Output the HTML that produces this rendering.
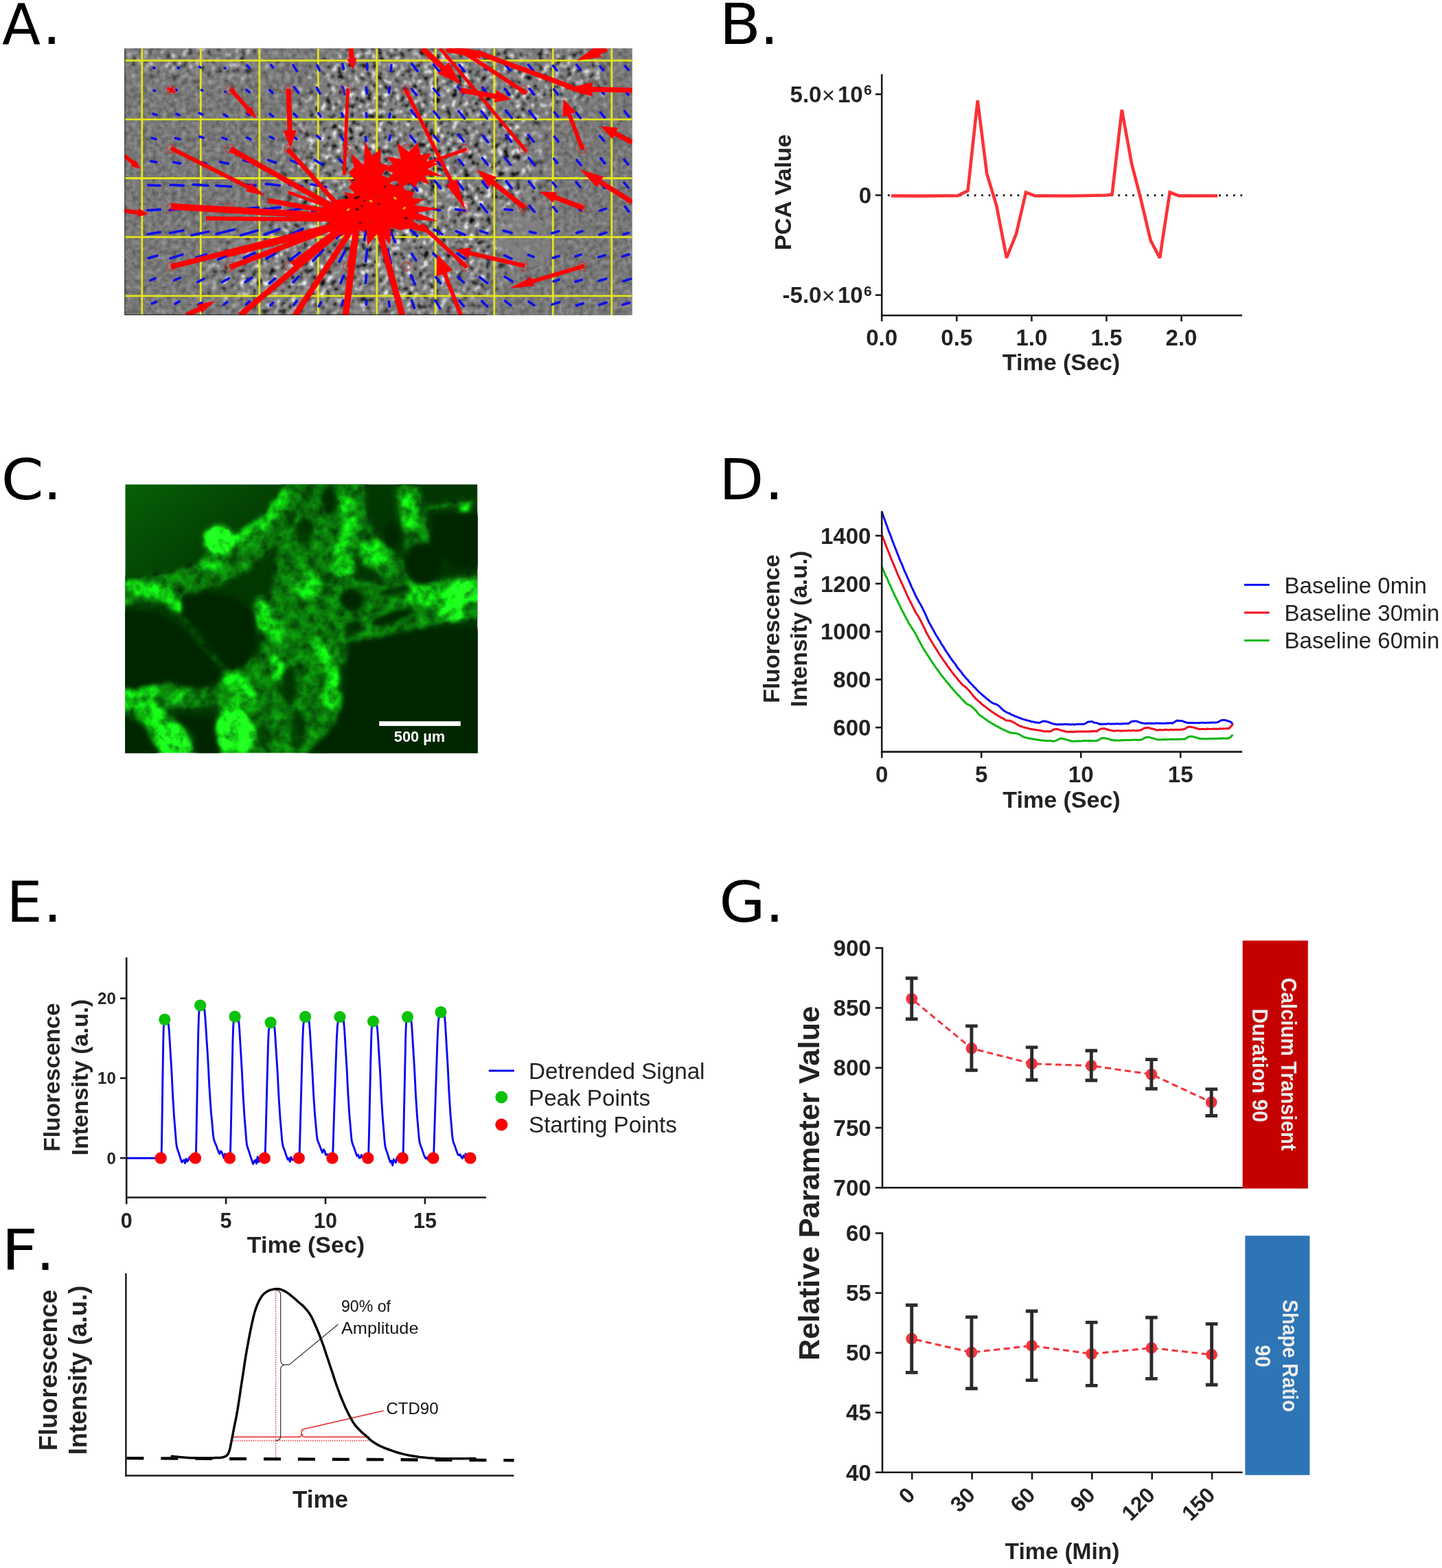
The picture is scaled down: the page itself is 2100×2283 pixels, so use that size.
<!DOCTYPE html>
<html lang="en"><head><meta charset="utf-8"><title>Figure</title>
<style>
html,body{margin:0;padding:0;background:#fff;}
body{width:2100px;height:2283px;font-family:'Liberation Sans',sans-serif;}
svg{display:block;}
text{white-space:pre;}
</style></head><body>
<svg width="2100" height="2283" viewBox="0 0 2100 2283" role="img" aria-label="Multi-panel scientific figure, panels A to G">
<defs>
<clipPath id="clipA"><rect x="181.3" y="70.4" width="739.3" height="388.6"/></clipPath>
<filter id="nzA1" x="0" y="0" width="100%" height="100%" color-interpolation-filters="sRGB">
<feTurbulence type="fractalNoise" baseFrequency="0.14" numOctaves="2" seed="4"/>
<feColorMatrix type="matrix" values="0.32 0 0 0 0.30999999999999994 0.32 0 0 0 0.30999999999999994 0.32 0 0 0 0.30999999999999994 0 0 0 0 1"/>
</filter>
<filter id="nzA2" x="0" y="0" width="100%" height="100%" color-interpolation-filters="sRGB">
<feTurbulence type="fractalNoise" baseFrequency="0.12" numOctaves="2" seed="9"/>
<feColorMatrix type="matrix" values="1.0 0 0 0 0.0 1.0 0 0 0 0.0 1.0 0 0 0 0.0 0 0 0 0 1"/>
<feComponentTransfer><feFuncR type="table" tableValues="0.020 0.020 0.020 0.020 0.020 0.050 0.212 0.338 0.428 0.482 0.500 0.518 0.572 0.662 0.788 0.950 0.980 0.980 0.980 0.980 0.980"/><feFuncG type="table" tableValues="0.020 0.020 0.020 0.020 0.020 0.050 0.212 0.338 0.428 0.482 0.500 0.518 0.572 0.662 0.788 0.950 0.980 0.980 0.980 0.980 0.980"/><feFuncB type="table" tableValues="0.020 0.020 0.020 0.020 0.020 0.050 0.212 0.338 0.428 0.482 0.500 0.518 0.572 0.662 0.788 0.950 0.980 0.980 0.980 0.980 0.980"/></feComponentTransfer>
<feGaussianBlur stdDeviation="0.8"/>
</filter>
<filter id="blA" x="-5%" y="-5%" width="110%" height="110%"><feGaussianBlur stdDeviation="22"/></filter>
<filter id="softA" x="0" y="0" width="100%" height="100%"><feGaussianBlur stdDeviation="0.6"/></filter>
<mask id="mA" maskUnits="userSpaceOnUse" x="181.3" y="70.4" width="739.3" height="388.6">
<rect x="181.3" y="70.4" width="739.3" height="388.6" fill="#000"/>
<g filter="url(#blA)" fill="#fff">
<ellipse cx="600" cy="250" rx="190" ry="220"/>
<ellipse cx="760" cy="110" rx="130" ry="55"/>
<ellipse cx="430" cy="400" rx="130" ry="70"/>
<ellipse cx="290" cy="88" rx="125" ry="30" opacity="0.9"/>
<ellipse cx="760" cy="345" rx="42" ry="36" fill="#000"/>
</g>
</mask>
<clipPath id="clipC"><rect x="182.3" y="705.2" width="513.1" height="391"/></clipPath>
<linearGradient id="bgC" x1="0" y1="0" x2="1" y2="1"><stop offset="0" stop-color="#076007"/><stop offset="0.3" stop-color="#023802"/><stop offset="1" stop-color="#013001"/></linearGradient>
<filter id="netC" filterUnits="userSpaceOnUse" x="0" y="0" width="1848" height="1437" color-interpolation-filters="sRGB">
<feGaussianBlur in="SourceGraphic" stdDeviation="13" result="b"/>
<feTurbulence type="fractalNoise" baseFrequency="0.018" numOctaves="3" seed="12" result="t"/>
<feColorMatrix in="t" type="matrix" values="0 0.9 0 0 0.2  0 0.9 0 0 0.2  0 0.9 0 0 0.2  0 0 0 0 1" result="t2"/>
<feComposite in="b" in2="t2" operator="arithmetic" k1="1.6" k2="0.0" k3="0" k4="0"/>
</filter>
<filter id="holeC" filterUnits="userSpaceOnUse" x="0" y="0" width="1848" height="1437"><feGaussianBlur stdDeviation="11"/></filter>
</defs>
<rect width="2100" height="2283" fill="#ffffff"/>
<g id="panelA" clip-path="url(#clipA)">
<rect x="181.3" y="70.4" width="739.3" height="388.6" fill="#7f7f7f"/>
<rect x="181.3" y="70.4" width="739.3" height="388.6" filter="url(#nzA1)"/>
<g mask="url(#mA)"><rect x="181.3" y="70.4" width="739.3" height="388.6" filter="url(#nzA2)"/></g>
<ellipse cx="761" cy="350" rx="36" ry="46" transform="rotate(-52 761 350)" fill="#848484" fill-opacity="0.5" stroke="#5c5c5c" stroke-width="1.5" stroke-opacity="0.4"/>
<g filter="url(#softA)">
<path d="M206.8 70.4V459 M292.3 70.4V459 M377.8 70.4V459 M463.3 70.4V459 M548.8 70.4V459 M634.3 70.4V459 M719.8 70.4V459 M805.3 70.4V459 M890.8 70.4V459 M181.3 88.1H920.6 M181.3 173.8H920.6 M181.3 259.5H920.6 M181.3 345.2H920.6 M181.3 430.9H920.6" stroke="#e4e41c" stroke-width="2.8" fill="none"/>
<path d="M223.7 98.3L225.1 99.1 M259 98.3L260.4 99.2 M290.7 97.4L292.1 98.4 M327.2 98.8L328.1 99.6 M359.6 95.3L363.4 99.2 M394.7 94.6L397.7 98.4 M427.1 94.9L432.4 103.6 M462.2 95.2L465.4 102.6 M498.7 93.2L500.4 100.6 M534.5 93L534.9 101.3 M570 94.9L568.9 103.4 M599.6 92.9L608 103.4 M631.7 94L640.1 104.6 M669 94.6L676.2 103.8 M701.8 92.7L708.6 101.3 M734.6 92.3L742.8 102.5 M769.2 93.9L776.6 103.2 M805.5 95.6L810.9 102.4 M839.7 94.3L845.6 101.6 M874 96.6L878.5 102.3 M910.5 96.2L915 101.9 M224.2 131.7L225.5 132.3 M256.4 130.7L257.5 131.3 M293.5 131.1L294.8 131.9 M327.9 133.3L329.1 134.1 M358.9 130.6L363.4 134.4 M392.7 131L396.9 135.3 M428.3 126.7L434.7 135.3 M461.3 127.7L465.8 136.2 M499 126.8L501.9 137 M533.4 127.5L534.1 136.2 M567.6 127.1L566.5 135.1 M599.5 129.5L606.4 138.2 M631.5 128.9L639.4 138.9 M666.9 126.5L675 136.7 M702.8 127.5L710.4 137.1 M735.4 129.5L741.9 137.8 M771 129.1L777.8 137.7 M806.6 130.2L812.3 137.3 M841.4 127.9L846.7 134.6 M874 130.3L879.1 136.6 M908.8 130L914.9 137.8 M223 165.8L227.8 167.5 M256.9 165.8L261.3 167.7 M290.2 164.7L294.8 166.8 M326.2 166.9L331.1 169.5 M359.7 165.1L363.5 167.5 M393 165.8L397.7 169.5 M427.9 165.6L432 169.7 M463.8 164.9L467 169.7 M497.9 165.1L499.7 169.7 M533.3 164.8L533.8 170.4 M567.9 165.4L566.9 170.9 M598.6 160.3L606.6 170.4 M632.2 162.4L639.9 172.2 M667.8 161.8L676.5 172.7 M700.9 161.9L709.4 172.6 M736.6 160.8L745.4 171.9 M770.9 161.6L780.1 173.2 M807.4 163.4L812.9 170.3 M839.1 163.9L845.3 171.8 M874.6 163.7L880.5 171.1 M909.7 162L915.7 169.6 M221.3 200.9L227.2 202.5 M255.4 201.1L262.1 203 M290.7 198.8L296.3 200.7 M324.1 200.5L330 202.8 M359.5 200.4L364.8 202.8 M393.4 199L398.4 201.8 M426.8 198.9L431.8 202.5 M461.6 197.4L466.2 202.2 M497.1 198.4L500.6 204.7 M532.4 199.5L533.2 205.3 M568.6 197.3L566.9 203.8 M597.5 197.5L605 206.9 M632.1 197.3L638.8 205.8 M667.3 195.6L675.4 205.8 M703.2 197.4L710.8 207 M737.2 196.9L744.7 206.3 M769.3 196.4L777.3 206.5 M807.3 199L813 206.2 M840.5 199.6L845 205.2 M873.6 197.8L879.3 205 M907.8 197.7L914 205.5 M219.5 234.8L227.8 236 M252.7 236.2L262.8 237.9 M288.1 235.7L300.2 238 M320.5 235.7L332.4 238.3 M354.7 233.2L368 236.9 M390.5 233.1L401.5 236.8 M423.9 233.7L434.7 238.2 M458.4 233L469.9 239.9 M494 231.8L501.5 239.6 M597.7 232.5L605 241.6 M633 230.3L641.3 240.7 M668.1 232.1L674.9 240.6 M702.4 230L710.4 240 M735.5 230L743.5 240 M770 229.8L778.6 240.6 M806.6 231.1L811.6 237.3 M840 233L846.2 240.7 M874.7 230.4L880.7 237.9 M908.9 232.1L914.7 239.5 M215.8 269.5L233 270.3 M248.3 269.2L267.8 270.2 M280.9 268.7L302.8 270.1 M314.9 270.3L336.9 271.7 M350.3 268.4L372.5 270.3 M387.3 267.8L407.2 270 M421 268.7L440.1 271.2 M452.6 268.2L475 272.3 M598.4 265.6L607.7 277.3 M633 263.1L641.8 274.2 M665.8 264.7L674.9 276.2 M702.6 264.3L709.9 273.5 M737.2 263.8L745.3 274.1 M770 263.8L778.2 274.1 M804.8 265.6L810 272.1 M839.1 265.2L844.7 272.2 M876 268.2L880.7 274.1 M909 265.9L914.6 273 M214.6 306.3L233.3 305.1 M247 305.7L267.1 304.3 M277.9 305.6L308.5 303.2 M314.8 305.9L339.9 303.6 M346.9 305.2L376.6 302.1 M383.8 304.8L408.3 301.8 M418 307.2L442 303 M454.1 307.7L476.8 302 M598 298.4L606.7 309.3 M640.6 306.2L630.2 303.9 M676.8 306.9L663.5 304.7 M700.2 297.5L709.4 309 M746 305.9L735 304.8 M771.2 299.5L778.3 308.4 M805.7 301.5L810.9 308 M839.8 299.5L845.9 307.1 M882.6 303.9L873.5 306.7 M910.2 300.9L915.9 308 M215.3 341L233.2 338 M247.4 339.2L267 335.6 M279.1 342.6L303.7 337.3 M315.1 340.4L340.9 334.2 M350.4 342.8L375.1 335.5 M384.9 341.5L406.9 333.7 M417.8 343.8L441 333.1 M455.8 344.5L476.1 331 M490.4 347L506.7 328.5 M530.4 349.5L535.2 328 M575.6 352.4L562.9 324.4 M607.5 343.6L598.4 335 M644 341L632.3 334.3 M676.9 342L664.3 336.6 M709.6 339.6L699.6 336.2 M745.1 339.1L733.3 335.9 M780.2 339.4L771.4 337.4 M813.7 336.6L803.7 339.7 M848.1 336.5L839.7 339.1 M883 338.6L873.2 341.7 M915.6 339L908 341.4 M216.4 375.8L229 372.3 M248.2 376.1L265.9 370.6 M285.6 375.3L300.2 370.2 M317.5 377.8L334.3 371 M355.2 375.5L370.6 368.2 M387.9 376.8L401.4 368.9 M422.8 378.2L436.5 367.7 M455.9 379.8L471 363.8 M494.1 381.1L502.4 365.3 M532.6 380.7L534.8 363.2 M569.4 383.6L564.3 363 M605.8 379L599.6 369.5 M639.9 377.7L630.8 368.9 M676.9 376.6L666 369.1 M711.4 377.3L701.1 371.6 M745 376.6L734.7 371.8 M777.1 374.1L769.4 371.1 M813.9 372.8L805.3 375.5 M846.3 370.6L837.9 373.3 M881.1 371.5L871.6 374.5 M916.2 370.3L906.3 373.5 M218.9 408.1L226.3 405.3 M253.7 408.2L262.3 404.6 M287.6 410.6L296.9 406.1 M323.4 410.9L333.3 405.3 M357 410.7L366.7 404.2 M392.2 412.5L400.7 405.4 M427 411.2L435 402.6 M462 410.3L466.9 402.7 M496.2 412.2L500.2 401.6 M532.4 412.1L533.5 400.4 M569 410.6L567.3 401.8 M604.3 413.7L598.3 400.7 M641.6 412.5L634.7 403.4 M675.3 411.3L666.7 403 M709.7 412.2L698.5 403.5 M746.1 409.8L735.2 403 M777.6 410.5L769.2 406 M814.1 407.2L806.1 409.7 M847.2 407.4L838.1 410.3 M882.5 405.8L872.3 409 M918.7 406L907.9 409.4 M221.3 442.2L227.2 439.4 M255 442.4L261.3 438.9 M288.7 443.9L294.1 440.6 M326 443.4L330.7 440 M358.4 443.2L363.4 439 M393.6 444.8L397.6 440.7 M427.7 444.3L432.2 438.2 M464.3 446L467.3 440.1 M497.9 444.4L499.9 437.5 M533.4 443.5L533.8 437.8 M567.3 446.3L566.3 439.1 M603.5 448.5L599.5 437.3 M640.7 448.8L634 437.4 M675.4 445.7L668.8 437.6 M709.7 446.2L701.6 438.3 M743.8 444.7L735.6 438.2 M777.8 444.4L769.8 438.9 M814.8 440L804 443.4 M849.1 441.7L839.2 444.8 M883.2 440.5L873 443.7 M916.5 440.7L906.7 443.8" stroke="#0a0af0" stroke-width="3.6" fill="none" stroke-linecap="round"/>
<g fill="none" stroke="#e02020" stroke-width="1.2" stroke-opacity="0.75"><circle cx="249.5" cy="131" r="6.5"/><circle cx="335" cy="131" r="6.5"/><circle cx="420.5" cy="131" r="6.5"/><circle cx="506" cy="131" r="6.5"/><circle cx="591.5" cy="131" r="6.5"/><circle cx="677" cy="131" r="6.5"/><circle cx="762.5" cy="131" r="6.5"/><circle cx="848" cy="131" r="6.5"/><circle cx="249.5" cy="216.7" r="6.5"/><circle cx="335" cy="216.7" r="6.5"/><circle cx="420.5" cy="216.7" r="6.5"/><circle cx="506" cy="216.7" r="6.5"/><circle cx="591.5" cy="216.7" r="6.5"/><circle cx="677" cy="216.7" r="6.5"/><circle cx="762.5" cy="216.7" r="6.5"/><circle cx="848" cy="216.7" r="6.5"/><circle cx="249.5" cy="302.4" r="6.5"/><circle cx="335" cy="302.4" r="6.5"/><circle cx="420.5" cy="302.4" r="6.5"/><circle cx="506" cy="302.4" r="6.5"/><circle cx="591.5" cy="302.4" r="6.5"/><circle cx="677" cy="302.4" r="6.5"/><circle cx="762.5" cy="302.4" r="6.5"/><circle cx="848" cy="302.4" r="6.5"/><circle cx="249.5" cy="388.1" r="6.5"/><circle cx="335" cy="388.1" r="6.5"/><circle cx="420.5" cy="388.1" r="6.5"/><circle cx="506" cy="388.1" r="6.5"/><circle cx="591.5" cy="388.1" r="6.5"/><circle cx="677" cy="388.1" r="6.5"/><circle cx="762.5" cy="388.1" r="6.5"/><circle cx="848" cy="388.1" r="6.5"/></g>
<path d="M244 128 L249.1 131" stroke="#ff0000" stroke-width="3.6" fill="none"/>
<path d="M256 135 L244.8 134.4 L250 125.5 Z" fill="#ff0000"/>
<path d="M335.6 129.3 L363 160.6" stroke="#ff0000" stroke-width="6" fill="none"/>
<path d="M373.5 172.6 L356.9 163.2 L366.4 154.9 Z" fill="#ff0000"/>
<path d="M420 129.3 L422.3 191.8" stroke="#ff0000" stroke-width="7.2" fill="none"/>
<path d="M423.2 215.8 L412.5 190.2 L432 189.5 Z" fill="#ff0000"/>
<path d="M506.6 129.3 L501.2 254.8" stroke="#ff0000" stroke-width="4.8" fill="none"/>
<path d="M510.9 70.4 L512.7 87.2" stroke="#ff0000" stroke-width="7.2" fill="none"/>
<path d="M514.2 101.1 L505.1 86 L519.9 84.4 Z" fill="#ff0000"/>
<path d="M249 215.8 L363.3 273.4" stroke="#ff0000" stroke-width="6" fill="none"/>
<path d="M386.5 285.1 L358.4 278.7 L364.6 266.3 Z" fill="#ff0000"/>
<path d="M335.6 217 L505 312" stroke="#ff0000" stroke-width="7.8" fill="none"/>
<path d="M419 217 L520 330" stroke="#ff0000" stroke-width="6.6" fill="none"/>
<path d="M181.3 226.7 L195.4 238.4" stroke="#ff0000" stroke-width="6" fill="none"/>
<path d="M204.6 246.1 L190.2 241.6 L197.5 232.7 Z" fill="#ff0000"/>
<path d="M249 300.6 L505 316" stroke="#ff0000" stroke-width="9.6" fill="none"/>
<path d="M300 318 L505 320" stroke="#ff0000" stroke-width="6" fill="none"/>
<path d="M390 292 L505 312" stroke="#ff0000" stroke-width="7.2" fill="none"/>
<path d="M181.3 307.1 L202.6 309.7" stroke="#ff0000" stroke-width="6" fill="none"/>
<path d="M216.5 311.4 L199.9 315.7 L201.4 303.2 Z" fill="#ff0000"/>
<path d="M249 388.3 L505 324" stroke="#ff0000" stroke-width="7.8" fill="none"/>
<path d="M330 372 L505 328" stroke="#ff0000" stroke-width="6" fill="none"/>
<path d="M334.5 389.4 L510 322" stroke="#ff0000" stroke-width="7.8" fill="none"/>
<path d="M426.5 385 L515 318" stroke="#ff0000" stroke-width="8.4" fill="none"/>
<path d="M349.7 459 L512 322" stroke="#ff0000" stroke-width="8.4" fill="none"/>
<path d="M429.7 459 L518 325" stroke="#ff0000" stroke-width="8.4" fill="none"/>
<path d="M503.3 459 L520 325" stroke="#ff0000" stroke-width="9.6" fill="none"/>
<path d="M271.7 459 L292.4 448.8" stroke="#ff0000" stroke-width="7.2" fill="none"/>
<path d="M313.9 438.1 L293.7 455.8 L287.5 443.5 Z" fill="#ff0000"/>
<path d="M506.6 389.4 L516.3 337.4" stroke="#ff0000" stroke-width="3.6" fill="none"/>
<path d="M585.7 459 L552 335" stroke="#ff0000" stroke-width="9" fill="none"/>
<path d="M420 280 L505 310" stroke="#ff0000" stroke-width="4.8" fill="none"/>
<path d="M671.2 459 L646.7 396" stroke="#ff0000" stroke-width="6" fill="none"/>
<path d="M636.6 369.9 L659.3 393.3 L635.7 402.4 Z" fill="#ff0000"/>
<path d="M679.9 389.4 L612.8 326.6" stroke="#ff0000" stroke-width="6" fill="none"/>
<path d="M764.3 387.2 L682.1 368" stroke="#ff0000" stroke-width="6" fill="none"/>
<path d="M662.6 363.4 L685.9 360.6 L682.2 376.3 Z" fill="#ff0000"/>
<path d="M850.9 387.2 L774.2 410.2" stroke="#ff0000" stroke-width="6" fill="none"/>
<path d="M742.6 419.7 L774.1 403 L778.1 416.2 Z" fill="#ff0000"/>
<path d="M764.3 302.8 L715.8 264" stroke="#ff0000" stroke-width="7.2" fill="none"/>
<path d="M693.9 246.5 L723.1 258.1 L711.6 272.4 Z" fill="#ff0000"/>
<path d="M849.8 302.8 L806.5 286.7" stroke="#ff0000" stroke-width="7.2" fill="none"/>
<path d="M785.9 279 L811.2 279.8 L805.6 294.9 Z" fill="#ff0000"/>
<path d="M920.6 294.1 L872.4 264" stroke="#ff0000" stroke-width="7.2" fill="none"/>
<path d="M844.4 246.5 L879 257.2 L869.2 272.8 Z" fill="#ff0000"/>
<path d="M679.9 217 L615 240" stroke="#ff0000" stroke-width="4.8" fill="none"/>
<path d="M590 129.3 L658.4 266.6" stroke="#ff0000" stroke-width="5.4" fill="none"/>
<path d="M678 306 L649.8 268.7 L665.2 261 Z" fill="#ff0000"/>
<path d="M615 70.4 L647.1 100.3" stroke="#ff0000" stroke-width="8.4" fill="none"/>
<path d="M671.2 122.8 L637.8 107.3 L653.4 90.5 Z" fill="#ff0000"/>
<path d="M641 70.4 L766.5 220.2" stroke="#ff0000" stroke-width="4.8" fill="none"/>
<path d="M667 70.4 L766.5 135.8" stroke="#ff0000" stroke-width="6" fill="none"/>
<path d="M671.2 131.4 L723.1 140.6" stroke="#ff0000" stroke-width="7.2" fill="none"/>
<path d="M744.8 144.4 L719.6 149.3 L722.8 131.2 Z" fill="#ff0000"/>
<path d="M697 77 L835 128" stroke="#ff0000" stroke-width="7.2" fill="none"/>
<path d="M650 70.4 L700 80" stroke="#ff0000" stroke-width="10.8" fill="none"/>
<path d="M920.6 131.4 L860.9 130.1" stroke="#ff0000" stroke-width="7.2" fill="none"/>
<path d="M824.9 129.3 L863.1 119.8 L862.7 140.5 Z" fill="#ff0000"/>
<path d="M883.3 70.4 L870.5 75.6" stroke="#ff0000" stroke-width="9.6" fill="none"/>
<path d="M840 88.1 L868.9 66.3 L875.9 83.4 Z" fill="#ff0000"/>
<path d="M848.7 218 L828.4 165" stroke="#ff0000" stroke-width="6" fill="none"/>
<path d="M820.6 144.4 L838.8 163.1 L819.5 170.5 Z" fill="#ff0000"/>
<path d="M920.6 207.2 L894.2 193.5" stroke="#ff0000" stroke-width="7.2" fill="none"/>
<path d="M874.7 183.4 L900.2 186.3 L891.8 202.6 Z" fill="#ff0000"/>
<polygon points="575.2,262 561.2,270.5 575.7,292.3 553.2,283.9 553.8,305.4 541.5,292.2 533.3,302.8 528.2,288.9 511.8,299.9 515.7,279.9 507.8,273.1 516.4,262 507.8,250.9 515.6,244 511.1,223.2 530.1,240.4 531.5,205.4 542,227.1 554.8,216 554.2,238.7 565.4,240 556,255.4" fill="#ff0000"/>
<polygon points="644.1,256.2 618.6,255.2 625.5,268.8 609.8,262.7 604.7,273.2 595.8,266 581,276.1 579.2,263.5 561,264.2 572.1,251.8 554.4,245.5 572.1,239.5 562.7,227.4 584,231.8 577.8,208.1 595.8,221.4 608.2,207.4 612.7,225.8 628,222.5 620.6,236.4 640,237.7 622.4,246.2" fill="#ff0000"/>
<polygon points="640.7,304 606.2,309.5 637.9,321.9 599.4,319.6 624.9,339 594.3,332.8 583.5,335.2 569.2,331.1 568.3,356.7 552,336.4 535.3,358 533.2,333.5 519.3,336.4 513.1,330.5 483.7,336.7 507.1,318.8 490,316.9 499.4,309.3 456.6,304 489.3,297.7 489.1,290.9 507.6,289.3 501.1,279.6 521.9,283.5 507.1,259.6 535,277.3 537.8,258 552,271.9 564.1,264.9 573.6,270.1 585.7,270.6 591.2,277.3 603.3,279.4 600.1,288.1 617.9,290.3 603.1,298.9" fill="#ff0000"/>
<polygon points="577.6,314 549.7,320.2 553.8,329.4 537.1,330.6 529.2,337.8 515,330.9 496.4,345.1 494.8,329.1 479.8,327.9 477.8,320.6 469.1,314 487.3,309.1 467.9,295.3 497.3,300.7 500.2,289.2 515,299.5 528.4,291.6 534.7,299.2 552.7,299.1 547.1,308.3" fill="#ff0000"/>
<ellipse cx="540.3" cy="292.8" rx="2.6" ry="1.6" fill="#e0c000" transform="rotate(33 540.3 292.8)"/>
<ellipse cx="517.9" cy="288.3" rx="2.6" ry="1.6" fill="#400808" transform="rotate(-1 517.9 288.3)"/>
<ellipse cx="591.3" cy="317.6" rx="2.6" ry="1.6" fill="#400808" transform="rotate(-16 591.3 317.6)"/>
<ellipse cx="520.1" cy="304.8" rx="2.6" ry="1.6" fill="#400808" transform="rotate(9 520.1 304.8)"/>
<ellipse cx="588.8" cy="303" rx="2.6" ry="1.6" fill="#e0c000" transform="rotate(-34 588.8 303)"/>
<ellipse cx="514.9" cy="264.6" rx="2.6" ry="1.6" fill="#b02020" transform="rotate(-10 514.9 264.6)"/>
<ellipse cx="575.3" cy="288.6" rx="2.6" ry="1.6" fill="#e0c000" transform="rotate(36 575.3 288.6)"/>
<ellipse cx="551.6" cy="297.4" rx="2.6" ry="1.6" fill="#7a1010" transform="rotate(-24 551.6 297.4)"/>
<ellipse cx="526.7" cy="300" rx="2.6" ry="1.6" fill="#7a1010" transform="rotate(-5 526.7 300)"/>
<ellipse cx="525.2" cy="324.2" rx="2.6" ry="1.6" fill="#7a1010" transform="rotate(-32 525.2 324.2)"/>
<ellipse cx="530.6" cy="292.3" rx="2.6" ry="1.6" fill="#7a1010" transform="rotate(-35 530.6 292.3)"/>
<ellipse cx="521.7" cy="287.1" rx="2.6" ry="1.6" fill="#400808" transform="rotate(-29 521.7 287.1)"/>
<ellipse cx="539.4" cy="322.6" rx="2.6" ry="1.6" fill="#b02020" transform="rotate(26 539.4 322.6)"/>
<ellipse cx="560.5" cy="271.5" rx="2.6" ry="1.6" fill="#7a1010" transform="rotate(-38 560.5 271.5)"/>
<ellipse cx="550.1" cy="286.3" rx="2.6" ry="1.6" fill="#b02020" transform="rotate(-36 550.1 286.3)"/>
<ellipse cx="507" cy="305.3" rx="2.6" ry="1.6" fill="#e0c000" transform="rotate(-32 507 305.3)"/>
</g>
<path d="M181.8 70.4V458.4H709" stroke="#222" stroke-width="1.4" stroke-opacity="0.8" fill="none"/>
</g>
<g id="panelC" clip-path="url(#clipC)">
<rect x="182.3" y="705.2" width="513.1" height="391" fill="url(#bgC)"/>
<g transform="translate(170 690) scale(0.29223)">
<g filter="url(#netC)"><path d="M30 590 L250 565 L450 505 L620 420 L760 285 L880 110 L930 40" stroke="#0a720a" stroke-width="150" fill="none" stroke-linecap="round" stroke-linejoin="round" opacity="1.0"/><path d="M1050 90 L1000 400 L950 700 L900 1000 L800 1330" stroke="#0a720a" stroke-width="400" fill="none" stroke-linecap="round" stroke-linejoin="round" opacity="1.0"/><path d="M1100 620 L1400 680 L1600 640 L1810 610" stroke="#0a720a" stroke-width="230" fill="none" stroke-linecap="round" stroke-linejoin="round" opacity="1.0"/><path d="M1150 80 L1200 300 L1350 450 L1450 560" stroke="#0a720a" stroke-width="150" fill="none" stroke-linecap="round" stroke-linejoin="round" opacity="1.0"/><path d="M1450 110 L1480 250 L1510 380" stroke="#0a720a" stroke-width="140" fill="none" stroke-linecap="round" stroke-linejoin="round" opacity="1.0"/><path d="M1530 175 L1650 152 L1770 140" stroke="#0a720a" stroke-width="34" fill="none" stroke-linecap="round" stroke-linejoin="round" opacity="1.0"/><path d="M30 1150 L200 1260 L300 1400" stroke="#0a720a" stroke-width="190" fill="none" stroke-linecap="round" stroke-linejoin="round" opacity="1.0"/><path d="M150 1110 L400 1100 L600 1030 L750 950" stroke="#0a720a" stroke-width="150" fill="none" stroke-linecap="round" stroke-linejoin="round" opacity="1.0"/><path d="M600 1100 L600 1400" stroke="#0a720a" stroke-width="200" fill="none" stroke-linecap="round" stroke-linejoin="round" opacity="1.0"/><path d="M1010 1000 L1060 1150 L960 1400" stroke="#0a720a" stroke-width="150" fill="none" stroke-linecap="round" stroke-linejoin="round" opacity="1.0"/><path d="M1100 900 L1300 800 L1500 745" stroke="#0a720a" stroke-width="110" fill="none" stroke-linecap="round" stroke-linejoin="round" opacity="1.0"/><path d="M43 711 L225 990 L285 1060" stroke="#0a720a" stroke-width="12" fill="none" stroke-linecap="round" stroke-linejoin="round" opacity="1.0"/><path d="M301 684 L483 915 L564 990" stroke="#0a720a" stroke-width="16" fill="none" stroke-linecap="round" stroke-linejoin="round" opacity="1.0"/><ellipse cx="510" cy="330" rx="80" ry="75" fill="#1cff1c" opacity="1.0"/><ellipse cx="470" cy="440" rx="50" ry="35" fill="#10c410" opacity="1.0"/><path d="M60 560 L250 600 L300 660" stroke="#10c410" stroke-width="70" fill="none" stroke-linecap="round" stroke-linejoin="round" opacity="1.0"/><path d="M600 330 L760 220 L850 110" stroke="#10c410" stroke-width="60" fill="none" stroke-linecap="round" stroke-linejoin="round" opacity="1.0"/><path d="M1130 130 L1180 250 L1100 380" stroke="#10c410" stroke-width="60" fill="none" stroke-linecap="round" stroke-linejoin="round" opacity="1.0"/><path d="M1450 120 L1470 250" stroke="#10c410" stroke-width="70" fill="none" stroke-linecap="round" stroke-linejoin="round" opacity="1.0"/><ellipse cx="1730" cy="165" rx="34" ry="30" fill="#10c410" opacity="1.0"/><ellipse cx="1280" cy="400" rx="70" ry="70" fill="#10c410" opacity="1.0"/><ellipse cx="1130" cy="460" rx="50" ry="60" fill="#10c410" opacity="1.0"/><ellipse cx="950" cy="560" rx="60" ry="70" fill="#10c410" opacity="1.0"/><ellipse cx="790" cy="780" rx="50" ry="60" fill="#10c410" opacity="1.0"/><ellipse cx="720" cy="700" rx="40" ry="90" fill="#10c410" opacity="1.0"/><path d="M1500 600 L1650 610 L1790 580" stroke="#10c410" stroke-width="110" fill="none" stroke-linecap="round" stroke-linejoin="round" opacity="1.0"/><ellipse cx="1720" cy="590" rx="70" ry="60" fill="#1cff1c" opacity="1.0"/><ellipse cx="1670" cy="690" rx="60" ry="45" fill="#1cff1c" opacity="1.0"/><path d="M1000 850 L1080 1000 L1060 1130" stroke="#10c410" stroke-width="70" fill="none" stroke-linecap="round" stroke-linejoin="round" opacity="1.0"/><ellipse cx="800" cy="960" rx="35" ry="70" fill="#10c410" opacity="1.0"/><path d="M580 1030 L640 1100 L560 1250 L600 1350" stroke="#10c410" stroke-width="110" fill="none" stroke-linecap="round" stroke-linejoin="round" opacity="1.0"/><ellipse cx="620" cy="1300" rx="70" ry="80" fill="#1cff1c" opacity="1.0"/><path d="M60 1120 L180 1200 L280 1330" stroke="#10c410" stroke-width="110" fill="none" stroke-linecap="round" stroke-linejoin="round" opacity="1.0"/><ellipse cx="290" cy="1325" rx="105" ry="80" fill="#1cff1c" opacity="1.0"/><ellipse cx="575" cy="1290" rx="95" ry="100" fill="#1cff1c" opacity="1.0"/><ellipse cx="617" cy="1028" rx="50" ry="40" fill="#10c410" opacity="1.0"/><ellipse cx="166" cy="1082" rx="30" ry="26" fill="#1cff1c" opacity="1.0"/><ellipse cx="300" cy="1108" rx="34" ry="28" fill="#10c410" opacity="1.0"/><ellipse cx="160" cy="1090" rx="40" ry="30" fill="#10c410" opacity="1.0"/><ellipse cx="1080" cy="1130" rx="50" ry="50" fill="#10c410" opacity="1.0"/></g>
<g filter="url(#holeC)"><polygon points="320,615 450,590 600,620 690,700 690,850 650,950 570,985 500,900 420,800 340,700" fill="#012601"/><polygon points="30,670 200,690 330,770 450,900 530,1000 500,1050 400,1075 250,1030 150,1050 30,1070" fill="#012601"/><ellipse cx="1172" cy="628" rx="58" ry="56" fill="#012601" opacity="1.0"/><ellipse cx="1060" cy="130" rx="36" ry="75" fill="#012601" opacity="0.9"/><ellipse cx="1370" cy="715" rx="110" ry="26" fill="#012601" opacity="1.0" transform="rotate(-18 1370 715)"/><ellipse cx="1525" cy="445" rx="92" ry="105" fill="#012601" opacity="1.0"/><ellipse cx="1379" cy="582" rx="90" ry="17" fill="#012601" opacity="0.85" transform="rotate(-10 1379 582)"/><ellipse cx="860" cy="1060" rx="36" ry="100" fill="#012601" opacity="0.85"/><ellipse cx="935" cy="285" rx="44" ry="66" fill="#012601" opacity="0.8" transform="rotate(15 935 285)"/><ellipse cx="955" cy="100" rx="30" ry="45" fill="#012601" opacity="0.6" transform="rotate(20 955 100)"/><ellipse cx="870" cy="220" rx="18" ry="50" fill="#012601" opacity="0.6" transform="rotate(25 870 220)"/><ellipse cx="1370" cy="310" rx="40" ry="64" fill="#012601" opacity="0.85"/><ellipse cx="1050" cy="520" rx="30" ry="30" fill="#012601" opacity="0.7"/><ellipse cx="730" cy="1300" rx="30" ry="60" fill="#012601" opacity="0.7"/><polygon points="1150,840 1300,815 1500,770 1810,770 1810,1400 940,1400 1090,1250 1140,1100" fill="#012501"/><polygon points="1580,200 1810,200 1810,470 1700,470 1560,380" fill="#012601"/><polygon points="30,1190 130,1250 210,1400 30,1400" fill="#012601"/><polygon points="300,1205 480,1218 515,1400 405,1400" fill="#012601" opacity="0.9"/><ellipse cx="900" cy="1275" rx="38" ry="105" fill="#012601" opacity="0.7"/></g>
</g>
<rect x="552.2" y="1050.2" width="118.6" height="6.8" fill="#ffffff"/>
<text x="611" y="1079.6" font-family="'Liberation Sans', sans-serif" font-size="21.8" font-weight="bold" text-anchor="middle" fill="#ffffff">500 µm</text>
</g>
<g id="panelB">
<line x1="1284.2" y1="108" x2="1284.2" y2="460.5" stroke="#1a1a1a" stroke-width="2.6"/>
<line x1="1282.9" y1="459.2" x2="1809" y2="459.2" stroke="#1a1a1a" stroke-width="2.6"/>
<line x1="1274.9" y1="137.2" x2="1284.2" y2="137.2" stroke="#1a1a1a" stroke-width="2.6"/>
<line x1="1274.9" y1="284.2" x2="1284.2" y2="284.2" stroke="#1a1a1a" stroke-width="2.6"/>
<line x1="1274.9" y1="429.6" x2="1284.2" y2="429.6" stroke="#1a1a1a" stroke-width="2.6"/>
<line x1="1284.2" y1="459.2" x2="1284.2" y2="467.9" stroke="#1a1a1a" stroke-width="2.6"/>
<text x="1284.2" y="503.2" font-family="'Liberation Sans', sans-serif" font-size="33" font-weight="bold" text-anchor="middle" fill="#222222">0.0</text>
<line x1="1393.3" y1="459.2" x2="1393.3" y2="467.9" stroke="#1a1a1a" stroke-width="2.6"/>
<text x="1393.3" y="503.2" font-family="'Liberation Sans', sans-serif" font-size="33" font-weight="bold" text-anchor="middle" fill="#222222">0.5</text>
<line x1="1502.4" y1="459.2" x2="1502.4" y2="467.9" stroke="#1a1a1a" stroke-width="2.6"/>
<text x="1502.4" y="503.2" font-family="'Liberation Sans', sans-serif" font-size="33" font-weight="bold" text-anchor="middle" fill="#222222">1.0</text>
<line x1="1611.4" y1="459.2" x2="1611.4" y2="467.9" stroke="#1a1a1a" stroke-width="2.6"/>
<text x="1611.4" y="503.2" font-family="'Liberation Sans', sans-serif" font-size="33" font-weight="bold" text-anchor="middle" fill="#222222">1.5</text>
<line x1="1720.5" y1="459.2" x2="1720.5" y2="467.9" stroke="#1a1a1a" stroke-width="2.6"/>
<text x="1720.5" y="503.2" font-family="'Liberation Sans', sans-serif" font-size="33" font-weight="bold" text-anchor="middle" fill="#222222">2.0</text>
<text x="1150.6" y="148.9" font-family="'Liberation Sans', sans-serif" font-size="33" font-weight="bold" text-anchor="start" fill="#222222">5.0</text>
<text x="1206.3" y="149.5" font-family="'Liberation Sans', sans-serif" font-size="33" text-anchor="middle" fill="#222222">×</text>
<text x="1220" y="148.9" font-family="'Liberation Sans', sans-serif" font-size="33" font-weight="bold" text-anchor="start" fill="#222222">10</text>
<text x="1258" y="138.3" font-family="'Liberation Sans', sans-serif" font-size="21" font-weight="bold" text-anchor="start" fill="#222222">6</text>
<text x="1269.2" y="295.9" font-family="'Liberation Sans', sans-serif" font-size="33" font-weight="bold" text-anchor="end" fill="#222222">0</text>
<text x="1150.6" y="441.3" font-family="'Liberation Sans', sans-serif" font-size="33" font-weight="bold" text-anchor="end" fill="#222222">-</text>
<text x="1150.6" y="441.3" font-family="'Liberation Sans', sans-serif" font-size="33" font-weight="bold" text-anchor="start" fill="#222222">5.0</text>
<text x="1206.3" y="441.9" font-family="'Liberation Sans', sans-serif" font-size="33" text-anchor="middle" fill="#222222">×</text>
<text x="1220" y="441.3" font-family="'Liberation Sans', sans-serif" font-size="33" font-weight="bold" text-anchor="start" fill="#222222">10</text>
<text x="1258" y="430.7" font-family="'Liberation Sans', sans-serif" font-size="21" font-weight="bold" text-anchor="start" fill="#222222">6</text>
<text x="1152" y="280" font-family="'Liberation Sans', sans-serif" font-size="34" font-weight="bold" text-anchor="middle" fill="#222222" transform="rotate(-90 1152 280)">PCA Value</text>
<text x="1545.5" y="538.5" font-family="'Liberation Sans', sans-serif" font-size="34" font-weight="bold" text-anchor="middle" fill="#222222">Time (Sec)</text>
<line x1="1283.8" y1="284.3" x2="1809" y2="284.3" stroke="#111" stroke-width="3.2" stroke-linecap="round" stroke-dasharray="0 10.48"/>
<polyline points="1297.9,285.1 1341.7,285.4 1395.3,284.9 1409.5,277.5 1423.7,146.2 1437.1,252.6 1451.3,299.7 1465.9,375.5 1480,340.3 1494,280 1507.3,285.1 1560,285.2 1611.4,284.2 1619.5,283.1 1633.8,159.8 1648,238 1661.8,291.6 1675.6,350 1689,375.6 1703.6,280 1717,285.1 1773,285.1" fill="none" stroke="#fb3236" stroke-width="4.6" stroke-linejoin="miter" stroke-miterlimit="2"/>
</g>
<g id="panelD">
<polyline points="1284.2,744.8 1285.7,749.6 1287.2,753.8 1288.7,757.6 1290.2,761.9 1291.7,766 1293.2,770.2 1294.7,774.4 1296.2,777.9 1297.7,781.8 1299.2,786.3 1300.7,790 1302.2,794.1 1303.7,797.4 1305.2,801.5 1306.7,805.5 1308.2,808.9 1309.7,813.1 1311.2,816.8 1312.7,819.8 1314.2,823.4 1315.7,827.3 1317.2,831.2 1318.7,834.3 1320.2,837.7 1321.7,841.3 1323.2,844.4 1324.7,847.9 1326.2,851.4 1327.7,854.8 1329.2,857.9 1330.7,861.2 1332.2,864.4 1333.7,867.8 1335.2,870.7 1336.7,873.1 1338.2,876.2 1339.7,878.6 1341.2,881.2 1342.7,883.9 1344.2,887.4 1345.7,890.3 1347.2,893.1 1348.7,896.6 1350.2,900.2 1351.7,903.4 1353.2,906.8 1354.7,909.2 1356.2,912.2 1357.7,914.8 1359.2,917.2 1360.7,920.1 1362.2,922.9 1363.7,925.5 1365.2,927.8 1366.7,930.3 1368.2,932.5 1369.7,935.1 1371.2,937.9 1372.7,940 1374.2,942.2 1375.7,944.8 1377.2,947.3 1378.7,949.5 1380.2,951.6 1381.7,953.9 1383.2,956.1 1384.7,958.5 1386.2,960.5 1387.7,962.5 1389.2,964.6 1390.7,966.4 1392.2,968.4 1393.7,970.9 1395.2,973.1 1396.7,974.8 1398.2,976.5 1399.7,978.3 1401.2,980.4 1402.7,982.6 1404.2,984.2 1405.7,985.9 1407.2,987.8 1408.7,989.1 1410.2,991 1411.7,993 1413.2,994.4 1414.7,996 1416.2,997.5 1417.7,999.2 1419.2,1001.1 1420.7,1001.9 1422.2,1004 1423.7,1005.5 1425.2,1007 1426.7,1008.3 1428.2,1009.8 1429.7,1010.9 1431.2,1012.3 1432.7,1013.5 1434.2,1014.6 1435.7,1016.4 1437.2,1017.5 1438.7,1018.4 1440.2,1019.9 1441.7,1021 1443.2,1022.1 1444.7,1023.2 1446.2,1023.9 1447.7,1024.5 1449.2,1025 1450.7,1025.4 1452.2,1026.1 1453.7,1027.3 1455.2,1028.2 1456.7,1029.8 1458.2,1031.4 1459.7,1032.7 1461.2,1034.1 1462.7,1035.4 1464.2,1035.8 1465.7,1037 1467.2,1037.7 1468.7,1038.1 1470.2,1038.8 1471.7,1039.5 1473.2,1040.8 1474.7,1041.1 1476.2,1041.7 1477.7,1042.7 1479.2,1043.1 1480.7,1043.6 1482.2,1044.2 1483.7,1045 1485.2,1045.3 1486.7,1046 1488.2,1046.8 1489.7,1047.1 1491.2,1047.5 1492.7,1048 1494.2,1048.2 1495.7,1048.9 1497.2,1049.3 1498.7,1049.5 1500.2,1049.8 1501.7,1050.7 1503.2,1050.8 1504.7,1050.9 1506.2,1051.5 1507.7,1051.9 1509.2,1051.7 1510.7,1051.9 1512.2,1052.3 1513.7,1052.5 1515.2,1051.4 1516.7,1051.1 1518.2,1050.3 1519.7,1049.9 1521.2,1049.9 1522.7,1050.5 1524.2,1050.6 1525.7,1051 1527.2,1051.3 1528.7,1052.2 1530.2,1052.5 1531.7,1053.2 1533.2,1053.5 1534.7,1054.2 1536.2,1054.3 1537.7,1054.5 1539.2,1055 1540.7,1054.9 1542.2,1054.5 1543.7,1054.9 1545.2,1054.5 1546.7,1055 1548.2,1054.8 1549.7,1054.6 1551.2,1054.5 1552.7,1054.3 1554.2,1054.9 1555.7,1054.3 1557.2,1054.9 1558.7,1055 1560.2,1054.7 1561.7,1054.4 1563.2,1054.9 1564.7,1054.9 1566.2,1054.7 1567.7,1054.6 1569.2,1054.5 1570.7,1054.4 1572.2,1054.3 1573.7,1054.6 1575.2,1054.4 1576.7,1054.2 1578.2,1054.2 1579.7,1054.1 1581.2,1052.9 1582.7,1052.2 1584.2,1051.1 1585.7,1051 1587.2,1051 1588.7,1050.4 1590.2,1050.6 1591.7,1051.1 1593.2,1052 1594.7,1052.3 1596.2,1052.4 1597.7,1052.7 1599.2,1053.5 1600.7,1054 1602.2,1054.5 1603.7,1054 1605.2,1054.4 1606.7,1054.2 1608.2,1054.1 1609.7,1054.4 1611.2,1053.9 1612.7,1054.2 1614.2,1053.7 1615.7,1053.8 1617.2,1054.3 1618.7,1053.8 1620.2,1054.1 1621.7,1054 1623.2,1054.2 1624.7,1053.8 1626.2,1053.8 1627.7,1053.7 1629.2,1054.1 1630.7,1053.9 1632.2,1054.1 1633.7,1054.1 1635.2,1053.5 1636.7,1053.8 1638.2,1053.5 1639.7,1053.4 1641.2,1053.4 1642.7,1053.9 1644.2,1053 1645.7,1052.1 1647.2,1050.9 1648.7,1050.2 1650.2,1050.2 1651.7,1049.9 1653.2,1050 1654.7,1050 1656.2,1050.4 1657.7,1050.9 1659.2,1051.8 1660.7,1052 1662.2,1052.7 1663.7,1052.8 1665.2,1053.1 1666.7,1053.6 1668.2,1053.6 1669.7,1053 1671.2,1053.5 1672.7,1053 1674.2,1053 1675.7,1053.6 1677.2,1053 1678.7,1053.1 1680.2,1053.6 1681.7,1053.2 1683.2,1052.9 1684.7,1053 1686.2,1053 1687.7,1053.3 1689.2,1052.9 1690.7,1053.4 1692.2,1053 1693.7,1053.4 1695.2,1053.3 1696.7,1052.9 1698.2,1052.9 1699.7,1053 1701.2,1052.7 1702.7,1053.1 1704.2,1052.6 1705.7,1052.6 1707.2,1053.3 1708.7,1052.2 1710.2,1051.5 1711.7,1050.5 1713.2,1049.5 1714.7,1048.9 1716.2,1049.5 1717.7,1049.5 1719.2,1049.6 1720.7,1049.5 1722.2,1050 1723.7,1050.7 1725.2,1051.4 1726.7,1051.5 1728.2,1052 1729.7,1052.4 1731.2,1052.5 1732.7,1052.6 1734.2,1052.5 1735.7,1052.4 1737.2,1052.3 1738.7,1052.4 1740.2,1052.9 1741.7,1052.5 1743.2,1052.6 1744.7,1052.6 1746.2,1052.8 1747.7,1052.4 1749.2,1052.3 1750.7,1052.3 1752.2,1052.3 1753.7,1052.6 1755.2,1052.6 1756.7,1052.2 1758.2,1052.2 1759.7,1052.3 1761.2,1052.3 1762.7,1052.3 1764.2,1052.1 1765.7,1051.9 1767.2,1052 1768.7,1051.9 1770.2,1052.2 1771.7,1051.9 1773.2,1051.5 1774.7,1051 1776.2,1049.9 1777.7,1049.3 1779.2,1048.5 1780.7,1048.7 1782.2,1048.2 1783.7,1048.4 1785.2,1049.1 1786.7,1049 1788.2,1050 1789.7,1049.9 1791.2,1050.8 1792.7,1051.4 1794.2,1053.2 1795.7,1053.7" fill="none" stroke="#0a0af5" stroke-width="3" stroke-linejoin="round"/>
<polyline points="1284.2,778.9 1285.7,782.9 1287.2,786.1 1288.7,790 1290.2,794.4 1291.7,798.2 1293.2,801.9 1294.7,805.4 1296.2,809.3 1297.7,813 1299.2,816.7 1300.7,820 1302.2,823.8 1303.7,827.3 1305.2,831.1 1306.7,834.8 1308.2,838.2 1309.7,841.4 1311.2,844.7 1312.7,848 1314.2,851.1 1315.7,854.5 1317.2,858.1 1318.7,861.2 1320.2,864.5 1321.7,868 1323.2,871 1324.7,874.1 1326.2,877 1327.7,879.9 1329.2,883.2 1330.7,886.1 1332.2,889.3 1333.7,892 1335.2,894.2 1336.7,896.2 1338.2,899.1 1339.7,901.9 1341.2,904.6 1342.7,907.5 1344.2,910.6 1345.7,913.8 1347.2,916.7 1348.7,920.3 1350.2,923.3 1351.7,925.4 1353.2,928.4 1354.7,930.9 1356.2,933.2 1357.7,935.8 1359.2,938.2 1360.7,941 1362.2,943.1 1363.7,945.7 1365.2,947.8 1366.7,950.5 1368.2,952.8 1369.7,954.8 1371.2,957.1 1372.7,959.6 1374.2,961.7 1375.7,963.7 1377.2,965.6 1378.7,967.8 1380.2,970.2 1381.7,971.9 1383.2,974.4 1384.7,976 1386.2,978.5 1387.7,980 1389.2,982.4 1390.7,984.1 1392.2,985.9 1393.7,987.7 1395.2,989.7 1396.7,991.4 1398.2,993 1399.7,994.7 1401.2,996.6 1402.7,998 1404.2,998.9 1405.7,999.7 1407.2,1001.4 1408.7,1002.9 1410.2,1004.6 1411.7,1005.7 1413.2,1008 1414.7,1009.5 1416.2,1011.8 1417.7,1013.5 1419.2,1015.3 1420.7,1017.2 1422.2,1018.1 1423.7,1019.7 1425.2,1021.3 1426.7,1022.2 1428.2,1023.5 1429.7,1025.2 1431.2,1026.1 1432.7,1027.6 1434.2,1028.3 1435.7,1029.7 1437.2,1030.7 1438.7,1032.2 1440.2,1032.9 1441.7,1034.6 1443.2,1035.1 1444.7,1036.6 1446.2,1037.1 1447.7,1038.3 1449.2,1039.7 1450.7,1040.2 1452.2,1041.2 1453.7,1042.4 1455.2,1043.1 1456.7,1043.8 1458.2,1045.3 1459.7,1045.5 1461.2,1046.3 1462.7,1047.3 1464.2,1048.3 1465.7,1049.1 1467.2,1049 1468.7,1049.3 1470.2,1049.2 1471.7,1049.7 1473.2,1050.4 1474.7,1051.1 1476.2,1051.8 1477.7,1052.5 1479.2,1053.6 1480.7,1054.6 1482.2,1055.4 1483.7,1056.3 1485.2,1057.2 1486.7,1057.4 1488.2,1057.8 1489.7,1058.5 1491.2,1059.2 1492.7,1059.1 1494.2,1059.8 1495.7,1060.1 1497.2,1060.6 1498.7,1060.7 1500.2,1061.6 1501.7,1061.4 1503.2,1062 1504.7,1062.1 1506.2,1062.2 1507.7,1062.8 1509.2,1062.8 1510.7,1062.9 1512.2,1063.2 1513.7,1063.5 1515.2,1063.6 1516.7,1064.2 1518.2,1064.2 1519.7,1064.7 1521.2,1064.9 1522.7,1065 1524.2,1064.6 1525.7,1064.9 1527.2,1064.8 1528.7,1065.2 1530.2,1064.7 1531.7,1064 1533.2,1063.1 1534.7,1061.9 1536.2,1061.7 1537.7,1061.8 1539.2,1061.5 1540.7,1061.7 1542.2,1062.4 1543.7,1062.7 1545.2,1063.5 1546.7,1063.7 1548.2,1064 1549.7,1064.5 1551.2,1065 1552.7,1065.3 1554.2,1065.5 1555.7,1065.5 1557.2,1065.3 1558.7,1065.6 1560.2,1065.3 1561.7,1065.7 1563.2,1065.7 1564.7,1065.5 1566.2,1065.3 1567.7,1065.3 1569.2,1065.3 1570.7,1064.9 1572.2,1065.2 1573.7,1065.2 1575.2,1064.9 1576.7,1064.8 1578.2,1065.3 1579.7,1065 1581.2,1065.1 1582.7,1065.3 1584.2,1065.1 1585.7,1064.8 1587.2,1065.3 1588.7,1064.8 1590.2,1064.5 1591.7,1065 1593.2,1064.5 1594.7,1064.6 1596.2,1065 1597.7,1064.6 1599.2,1063.2 1600.7,1062.6 1602.2,1061.7 1603.7,1061 1605.2,1060.7 1606.7,1061 1608.2,1060.6 1609.7,1061.1 1611.2,1061.6 1612.7,1062.4 1614.2,1062.2 1615.7,1063.1 1617.2,1063.1 1618.7,1063.8 1620.2,1064.1 1621.7,1064.2 1623.2,1064.3 1624.7,1064.1 1626.2,1063.8 1627.7,1063.8 1629.2,1063.8 1630.7,1064.3 1632.2,1064.1 1633.7,1064.3 1635.2,1064.1 1636.7,1063.6 1638.2,1064 1639.7,1064 1641.2,1064 1642.7,1063.8 1644.2,1063.6 1645.7,1063.7 1647.2,1063.9 1648.7,1063.5 1650.2,1063.6 1651.7,1063.6 1653.2,1063.9 1654.7,1063.7 1656.2,1063.8 1657.7,1063.7 1659.2,1063.3 1660.7,1063.2 1662.2,1062.8 1663.7,1061.7 1665.2,1060.9 1666.7,1060.1 1668.2,1059.9 1669.7,1059.7 1671.2,1059.8 1672.7,1059.4 1674.2,1060 1675.7,1060.9 1677.2,1060.7 1678.7,1061.3 1680.2,1061.5 1681.7,1061.9 1683.2,1062.9 1684.7,1063.2 1686.2,1063 1687.7,1062.6 1689.2,1062.7 1690.7,1062.6 1692.2,1062.9 1693.7,1062.8 1695.2,1062.6 1696.7,1062.7 1698.2,1062.3 1699.7,1062.6 1701.2,1062.9 1702.7,1062.7 1704.2,1062.2 1705.7,1062.5 1707.2,1062.6 1708.7,1062.2 1710.2,1062.6 1711.7,1062.3 1713.2,1062.5 1714.7,1062.2 1716.2,1062.6 1717.7,1062.4 1719.2,1062.2 1720.7,1061.9 1722.2,1062.1 1723.7,1061.8 1725.2,1061.4 1726.7,1060.7 1728.2,1059.3 1729.7,1058.6 1731.2,1058.3 1732.7,1058.2 1734.2,1058.4 1735.7,1058.8 1737.2,1059 1738.7,1059.3 1740.2,1060 1741.7,1060 1743.2,1060.7 1744.7,1061.1 1746.2,1061.6 1747.7,1061.8 1749.2,1061.4 1750.7,1061.6 1752.2,1061.4 1753.7,1061.6 1755.2,1061.8 1756.7,1061.5 1758.2,1061 1759.7,1061.3 1761.2,1061.5 1762.7,1061.6 1764.2,1061.4 1765.7,1061.4 1767.2,1060.9 1768.7,1061.5 1770.2,1061.3 1771.7,1061.2 1773.2,1061.4 1774.7,1061.3 1776.2,1060.7 1777.7,1061.2 1779.2,1061.1 1780.7,1060.7 1782.2,1061.1 1783.7,1060.9 1785.2,1060.6 1786.7,1061 1788.2,1060.5 1789.7,1060.8 1791.2,1059.1 1792.7,1057.3 1794.2,1055.9 1795.7,1054.2" fill="none" stroke="#f20a1e" stroke-width="3" stroke-linejoin="round"/>
<polyline points="1284.2,824.8 1285.7,828.5 1287.2,831.9 1288.7,835.5 1290.2,838.9 1291.7,841.9 1293.2,845.2 1294.7,849.1 1296.2,852 1297.7,855.2 1299.2,859 1300.7,861.9 1302.2,865.3 1303.7,868.2 1305.2,871.4 1306.7,874.2 1308.2,877.6 1309.7,880.8 1311.2,883.6 1312.7,886.8 1314.2,889.7 1315.7,892.2 1317.2,895.6 1318.7,898.4 1320.2,901 1321.7,903.7 1323.2,907.1 1324.7,909.3 1326.2,911.7 1327.7,914 1329.2,916 1330.7,918.5 1332.2,920.8 1333.7,923.7 1335.2,926.1 1336.7,929.5 1338.2,932.5 1339.7,934.9 1341.2,937.9 1342.7,940.7 1344.2,943.7 1345.7,945.7 1347.2,948.3 1348.7,950.4 1350.2,952.9 1351.7,955.1 1353.2,957.4 1354.7,959.8 1356.2,962.1 1357.7,964.5 1359.2,966.5 1360.7,968.9 1362.2,971 1363.7,973.2 1365.2,975.1 1366.7,976.8 1368.2,979.3 1369.7,981.4 1371.2,983.4 1372.7,985.1 1374.2,987.2 1375.7,988.7 1377.2,991.1 1378.7,992.8 1380.2,994.4 1381.7,996.1 1383.2,998.5 1384.7,1000.3 1386.2,1001.5 1387.7,1003.7 1389.2,1005.2 1390.7,1006.7 1392.2,1008.4 1393.7,1010.4 1395.2,1012.1 1396.7,1013.1 1398.2,1015.1 1399.7,1016.3 1401.2,1018.3 1402.7,1019.5 1404.2,1021.4 1405.7,1022.9 1407.2,1024.1 1408.7,1025.5 1410.2,1025.9 1411.7,1026.6 1413.2,1027.7 1414.7,1028.4 1416.2,1029.9 1417.7,1031.3 1419.2,1032.8 1420.7,1034.2 1422.2,1035.8 1423.7,1038.1 1425.2,1039.4 1426.7,1041.2 1428.2,1042.3 1429.7,1043.1 1431.2,1044.3 1432.7,1045.4 1434.2,1046.6 1435.7,1047.6 1437.2,1048.6 1438.7,1049.6 1440.2,1050.8 1441.7,1051.5 1443.2,1052.4 1444.7,1053.5 1446.2,1054.1 1447.7,1055 1449.2,1056.4 1450.7,1056.9 1452.2,1057.8 1453.7,1058.2 1455.2,1059.3 1456.7,1060.2 1458.2,1060.6 1459.7,1061.7 1461.2,1062.5 1462.7,1062.8 1464.2,1063.9 1465.7,1064.4 1467.2,1065.2 1468.7,1065.6 1470.2,1066.5 1471.7,1067.1 1473.2,1067.1 1474.7,1067.1 1476.2,1067.5 1477.7,1067.7 1479.2,1067.3 1480.7,1068 1482.2,1068.6 1483.7,1068.9 1485.2,1069.8 1486.7,1070.7 1488.2,1071.6 1489.7,1072.6 1491.2,1073.2 1492.7,1073.6 1494.2,1074.2 1495.7,1074.1 1497.2,1074.8 1498.7,1075.2 1500.2,1075.2 1501.7,1075.5 1503.2,1076.1 1504.7,1076 1506.2,1076.2 1507.7,1076.6 1509.2,1077 1510.7,1076.8 1512.2,1077.2 1513.7,1077.4 1515.2,1077.9 1516.7,1077.8 1518.2,1078.2 1519.7,1077.9 1521.2,1078.2 1522.7,1078.5 1524.2,1078.8 1525.7,1078.6 1527.2,1078.5 1528.7,1078.5 1530.2,1078.8 1531.7,1078.7 1533.2,1079.2 1534.7,1079.2 1536.2,1078.8 1537.7,1078.3 1539.2,1077.8 1540.7,1076.8 1542.2,1076.1 1543.7,1075.4 1545.2,1075.2 1546.7,1075.3 1548.2,1075.8 1549.7,1075.9 1551.2,1076.4 1552.7,1076.9 1554.2,1077.4 1555.7,1077.8 1557.2,1078.6 1558.7,1078.5 1560.2,1078.7 1561.7,1079.4 1563.2,1079.3 1564.7,1079.3 1566.2,1078.9 1567.7,1079.3 1569.2,1079.2 1570.7,1078.7 1572.2,1079 1573.7,1079.1 1575.2,1078.9 1576.7,1078.8 1578.2,1078.6 1579.7,1078.6 1581.2,1078.5 1582.7,1078.4 1584.2,1078.7 1585.7,1078.5 1587.2,1078.8 1588.7,1078.3 1590.2,1078.8 1591.7,1078.7 1593.2,1078.8 1594.7,1078.8 1596.2,1078.7 1597.7,1078.5 1599.2,1077.6 1600.7,1077.2 1602.2,1075.9 1603.7,1075.1 1605.2,1074.8 1606.7,1074.7 1608.2,1074.6 1609.7,1075 1611.2,1075.2 1612.7,1075.4 1614.2,1075.8 1615.7,1076.6 1617.2,1076.8 1618.7,1077.4 1620.2,1077.5 1621.7,1077.8 1623.2,1078 1624.7,1078.2 1626.2,1077.7 1627.7,1078.1 1629.2,1078.2 1630.7,1078 1632.2,1078 1633.7,1077.4 1635.2,1077.8 1636.7,1078 1638.2,1077.4 1639.7,1077.5 1641.2,1077.5 1642.7,1077.6 1644.2,1077.5 1645.7,1077.6 1647.2,1077.7 1648.7,1077.2 1650.2,1077.2 1651.7,1077.2 1653.2,1077.2 1654.7,1077.1 1656.2,1077.7 1657.7,1077.6 1659.2,1077 1660.7,1077.3 1662.2,1077.1 1663.7,1076.3 1665.2,1075.4 1666.7,1074.7 1668.2,1073.7 1669.7,1073.4 1671.2,1073.3 1672.7,1073.4 1674.2,1073.5 1675.7,1074.2 1677.2,1074.7 1678.7,1074.9 1680.2,1075.1 1681.7,1075.6 1683.2,1076.2 1684.7,1076.8 1686.2,1077 1687.7,1076.7 1689.2,1077 1690.7,1076.9 1692.2,1076.7 1693.7,1076.6 1695.2,1076.7 1696.7,1076.8 1698.2,1076.6 1699.7,1076.7 1701.2,1076.6 1702.7,1076.4 1704.2,1076.6 1705.7,1076.6 1707.2,1076.2 1708.7,1076.4 1710.2,1076.4 1711.7,1076.7 1713.2,1076.7 1714.7,1076.3 1716.2,1076.6 1717.7,1076.5 1719.2,1076.1 1720.7,1076.2 1722.2,1075.9 1723.7,1076.4 1725.2,1076.2 1726.7,1075.4 1728.2,1074.5 1729.7,1073.4 1731.2,1072.6 1732.7,1072.5 1734.2,1072.1 1735.7,1072.4 1737.2,1072.3 1738.7,1072.9 1740.2,1073.7 1741.7,1073.6 1743.2,1074.1 1744.7,1074.5 1746.2,1075.5 1747.7,1075.4 1749.2,1075.4 1750.7,1075.9 1752.2,1075.4 1753.7,1075.9 1755.2,1075.8 1756.7,1075.8 1758.2,1075.9 1759.7,1075.6 1761.2,1075.7 1762.7,1075.2 1764.2,1075.7 1765.7,1075.5 1767.2,1075.6 1768.7,1075.1 1770.2,1075.5 1771.7,1075.6 1773.2,1075 1774.7,1075.2 1776.2,1075.3 1777.7,1075.5 1779.2,1075 1780.7,1075 1782.2,1075 1783.7,1075.2 1785.2,1075.3 1786.7,1075 1788.2,1075 1789.7,1074.9 1791.2,1073.7 1792.7,1072.5 1794.2,1071 1795.7,1070.1" fill="none" stroke="#0cb812" stroke-width="3" stroke-linejoin="round"/>
<line x1="1284.2" y1="744.2" x2="1284.2" y2="1095.9" stroke="#1a1a1a" stroke-width="2.6"/>
<line x1="1282.9" y1="1094.6" x2="1809" y2="1094.6" stroke="#1a1a1a" stroke-width="2.6"/>
<line x1="1274.9" y1="780" x2="1284.2" y2="780" stroke="#1a1a1a" stroke-width="2.6"/>
<text x="1268.4" y="791.7" font-family="'Liberation Sans', sans-serif" font-size="33" font-weight="bold" text-anchor="end" fill="#222222">1400</text>
<line x1="1274.9" y1="849.8" x2="1284.2" y2="849.8" stroke="#1a1a1a" stroke-width="2.6"/>
<text x="1268.4" y="861.5" font-family="'Liberation Sans', sans-serif" font-size="33" font-weight="bold" text-anchor="end" fill="#222222">1200</text>
<line x1="1274.9" y1="919.6" x2="1284.2" y2="919.6" stroke="#1a1a1a" stroke-width="2.6"/>
<text x="1268.4" y="931.3" font-family="'Liberation Sans', sans-serif" font-size="33" font-weight="bold" text-anchor="end" fill="#222222">1000</text>
<line x1="1274.9" y1="989.4" x2="1284.2" y2="989.4" stroke="#1a1a1a" stroke-width="2.6"/>
<text x="1268.4" y="1001.1" font-family="'Liberation Sans', sans-serif" font-size="33" font-weight="bold" text-anchor="end" fill="#222222">800</text>
<line x1="1274.9" y1="1059.2" x2="1284.2" y2="1059.2" stroke="#1a1a1a" stroke-width="2.6"/>
<text x="1268.4" y="1070.9" font-family="'Liberation Sans', sans-serif" font-size="33" font-weight="bold" text-anchor="end" fill="#222222">600</text>
<line x1="1284.2" y1="1094.6" x2="1284.2" y2="1103.6" stroke="#1a1a1a" stroke-width="2.6"/>
<text x="1284.2" y="1139.2" font-family="'Liberation Sans', sans-serif" font-size="33" font-weight="bold" text-anchor="middle" fill="#222222">0</text>
<line x1="1429.2" y1="1094.6" x2="1429.2" y2="1103.6" stroke="#1a1a1a" stroke-width="2.6"/>
<text x="1429.2" y="1139.2" font-family="'Liberation Sans', sans-serif" font-size="33" font-weight="bold" text-anchor="middle" fill="#222222">5</text>
<line x1="1574.2" y1="1094.6" x2="1574.2" y2="1103.6" stroke="#1a1a1a" stroke-width="2.6"/>
<text x="1574.2" y="1139.2" font-family="'Liberation Sans', sans-serif" font-size="33" font-weight="bold" text-anchor="middle" fill="#222222">10</text>
<line x1="1719.2" y1="1094.6" x2="1719.2" y2="1103.6" stroke="#1a1a1a" stroke-width="2.6"/>
<text x="1719.2" y="1139.2" font-family="'Liberation Sans', sans-serif" font-size="33" font-weight="bold" text-anchor="middle" fill="#222222">15</text>
<text x="1546" y="1176" font-family="'Liberation Sans', sans-serif" font-size="34" font-weight="bold" text-anchor="middle" fill="#222222">Time (Sec)</text>
<text x="1134.6" y="915.6" font-family="'Liberation Sans', sans-serif" font-size="33.6" font-weight="bold" text-anchor="middle" fill="#222222" transform="rotate(-90 1134.6 915.6)">Fluorescence</text>
<text x="1174.7" y="915.6" font-family="'Liberation Sans', sans-serif" font-size="33.6" font-weight="bold" text-anchor="middle" fill="#222222" transform="rotate(-90 1174.7 915.6)">Intensity (a.u.)</text>
<line x1="1812" y1="851.6" x2="1848.7" y2="851.6" stroke="#0a0af5" stroke-width="3"/>
<text x="1870.6" y="863.7" font-family="'Liberation Sans', sans-serif" font-size="33" text-anchor="start" fill="#222222">Baseline 0min</text>
<line x1="1812" y1="892.1" x2="1848.7" y2="892.1" stroke="#f20a1e" stroke-width="3"/>
<text x="1870.6" y="904" font-family="'Liberation Sans', sans-serif" font-size="33" text-anchor="start" fill="#222222">Baseline 30min</text>
<line x1="1812" y1="932.5" x2="1848.7" y2="932.5" stroke="#0cb812" stroke-width="3"/>
<text x="1870.6" y="944.3" font-family="'Liberation Sans', sans-serif" font-size="33" text-anchor="start" fill="#222222">Baseline 60min</text>
</g>
<g id="panelE">
<polyline points="184.2,1686.2 234.2,1686.2 234.8,1686.2 235,1683.6 235.2,1678.7 235.5,1666 235.9,1640.5 236.4,1607 236.8,1575.2 237.3,1546.3 237.7,1518.9 238.2,1498.5 238.7,1488.6 239.2,1485.7 239.8,1484.4 240.5,1483.4 241.4,1484.1 242.3,1485.4 243.3,1485.8 244.4,1486.8 245.4,1491.5 246.4,1502.5 247.3,1517.2 248.1,1530.9 248.8,1541.7 249.4,1551.5 250,1561.4 250.5,1571.7 251,1581.9 251.5,1592.2 252.1,1602.9 252.8,1613.6 253.4,1623.5 254,1632.2 254.7,1640.1 255.3,1647.6 255.9,1655.2 256.5,1662.4 257.2,1668.4 258.2,1672.7 259.3,1675.7 260.3,1678.4 261.1,1681.1 261.8,1683.4 262.5,1685.6 263.3,1688.1 264.2,1690.5 264.8,1692.2 266.4,1690.4 268,1688.7 269.6,1693.7 271.2,1687.2 272.8,1691 274.4,1688.6 276,1684.7 277.6,1688.4 279.2,1682.9 280.8,1686.1 284.5,1686.2 285.1,1686.2 285.2,1683.3 285.5,1678 285.8,1664 286.3,1635.8 287,1599 287.6,1563.9 288.2,1532 288.8,1501.9 289.5,1479.4 290.2,1468.5 290.9,1465.2 291.7,1463.8 292.6,1462.7 293.5,1463.5 294.5,1464.9 295.6,1465.4 296.8,1466.4 298,1471.6 299,1483.7 300.1,1499.8 301,1514.9 301.8,1526.7 302.5,1537.3 303.1,1548 303.7,1559 304.2,1569.9 304.8,1580.8 305.5,1591.9 306.2,1603 306.9,1613.1 307.6,1622 308.4,1629.9 309.1,1637.4 309.7,1644.8 310.4,1651.9 311.2,1657.7 312.3,1661.8 313.5,1664.7 314.7,1667.3 315.6,1669.7 316.3,1671.9 317.1,1674.1 318.1,1676.4 319,1678.6 319.7,1680.2 321.3,1676.1 322.9,1677.2 324.5,1681.4 326.1,1686.3 327.7,1680.1 329.3,1682 330.9,1686.9 334.5,1686.2 335.1,1686.2 335.2,1683.5 335.4,1678.6 335.8,1665.6 336.4,1639.5 337.1,1605.4 337.8,1572.9 338.4,1543.4 339,1515.4 339.7,1494.6 340.5,1484.5 341.3,1481.5 342.1,1480.2 342.9,1479.2 343.7,1479.9 344.6,1481.2 345.6,1481.6 346.7,1482.6 347.7,1487.4 348.7,1498.6 349.6,1513.6 350.4,1527.6 351.1,1538.7 351.7,1548.7 352.3,1558.7 352.8,1569.1 353.3,1579.5 353.8,1590 354.4,1600.7 355.1,1611.5 355.7,1621.5 356.3,1630.3 357,1638.2 357.6,1645.8 358.2,1653.4 358.8,1660.6 359.5,1666.6 360.5,1670.8 361.6,1673.8 362.6,1676.5 363.4,1679.1 364.1,1681.4 364.8,1683.7 365.6,1686.1 366.5,1688.5 367.1,1690.2 368.7,1694.7 370.3,1691 371.9,1689 373.5,1694.2 375.1,1684.4 376.7,1691.9 378.3,1685.7 379.9,1683.7 381.5,1682.8 385.3,1686.2 385.9,1686.2 386,1683.6 386.2,1678.9 386.6,1666.5 387.3,1641.5 388.1,1608.8 388.9,1577.6 389.7,1549.3 390.4,1522.6 391.2,1502.6 392.2,1492.9 393.2,1490 394.1,1488.8 394.9,1487.8 395.7,1488.5 396.6,1489.8 397.6,1490.2 398.7,1491.1 399.7,1495.7 400.7,1506.5 401.6,1520.8 402.4,1534.2 403.1,1544.8 403.7,1554.3 404.3,1563.9 404.8,1573.8 405.3,1583.8 405.8,1593.7 406.4,1604 407.1,1614.2 407.7,1623.7 408.3,1631.9 409,1639.4 409.6,1646.5 410.2,1653.7 410.8,1660.5 411.5,1666.1 412.5,1670.1 413.6,1672.9 414.6,1675.4 415.4,1677.9 416.1,1680 416.8,1682.1 417.6,1684.4 418.5,1686.6 419.1,1688.2 420.7,1686.3 422.3,1691.4 423.9,1684.8 425.5,1688.5 427.1,1688.7 428.7,1685.7 430.3,1687.2 431.9,1682 435.3,1686.2 435.9,1686.2 436,1683.5 436.2,1678.6 436.6,1665.6 437.3,1639.6 438.2,1605.5 439.1,1573 439.9,1543.5 440.7,1515.6 441.6,1494.8 442.6,1484.7 443.6,1481.7 444.6,1480.4 445.5,1479.4 446.2,1480.1 447.1,1481.4 448.1,1481.9 449.2,1482.8 450.2,1487.6 451.2,1498.8 452.1,1513.7 452.9,1527.6 453.6,1538.5 454.2,1548.4 454.8,1558.2 455.3,1568.3 455.8,1578.3 456.3,1588.3 456.9,1598.5 457.6,1608.6 458.2,1617.8 458.8,1625.8 459.5,1633 460.1,1639.8 460.7,1646.5 461.3,1652.9 462,1658.1 463,1661.8 464.1,1664.4 465.1,1666.7 465.9,1668.9 466.6,1670.8 467.3,1672.7 468.1,1674.8 469,1676.8 469.6,1678.2 471.2,1673.8 472.8,1675.6 474.4,1681.7 476,1680.6 477.6,1680.9 479.2,1685.1 480.8,1685.2 483.9,1686.2 484.5,1686.2 484.6,1683.5 484.8,1678.6 485.2,1665.6 486,1639.6 487.1,1605.5 488.2,1573.1 489.2,1543.6 490.2,1515.7 491.3,1494.9 492.5,1484.8 493.8,1481.8 495,1480.5 495.9,1479.5 496.7,1480.2 497.5,1481.5 498.5,1481.9 499.6,1482.9 500.6,1487.7 501.6,1498.9 502.5,1513.9 503.3,1527.8 504,1538.7 504.6,1548.6 505.2,1558.5 505.7,1568.7 506.2,1578.9 506.7,1589.1 507.3,1599.5 508,1609.9 508.6,1619.4 509.2,1627.7 509.9,1635.2 510.5,1642.3 511.1,1649.4 511.7,1656.1 512.4,1661.7 513.4,1665.5 514.5,1668.3 515.5,1670.8 516.3,1673.2 517,1675.3 517.7,1677.3 518.5,1679.5 519.4,1681.7 520,1683.2 521.6,1681.2 523.2,1686.1 524.8,1685.6 526.4,1681.5 528,1685.3 529.6,1685.3 531.2,1689.3 532.8,1688.3 535.8,1686.2 536.4,1686.2 536.5,1683.6 536.7,1678.8 537.1,1666.3 537.7,1641 538.4,1608.1 539.1,1576.6 539.7,1548.1 540.4,1521.1 541.1,1500.9 541.8,1491.2 542.7,1488.3 543.5,1487 544.3,1486 545.1,1486.7 546,1488 547,1488.4 548.1,1489.4 549.1,1494 550.1,1504.8 551,1519.3 551.8,1532.9 552.5,1543.6 553.1,1553.3 553.7,1563 554.2,1573.1 554.7,1583.3 555.2,1593.5 555.8,1604 556.5,1614.6 557.1,1624.3 557.7,1632.9 558.4,1640.7 559,1648.2 559.6,1655.7 560.2,1662.8 560.9,1668.7 561.9,1672.9 563,1675.9 564,1678.6 564.8,1681.2 565.5,1683.5 566.2,1685.7 567,1688.2 567.9,1690.5 568.5,1692.2 570.1,1690.1 571.7,1697 573.3,1688 574.9,1690.2 576.5,1692.7 578.1,1685.8 579.7,1688.3 581.3,1682.9 582.9,1688.3 586.2,1686.2 586.8,1686.2 586.9,1683.5 587.2,1678.6 587.5,1665.6 588,1639.6 588.7,1605.6 589.4,1573.1 590,1543.7 590.6,1515.8 591.2,1495 591.9,1484.9 592.7,1481.9 593.5,1480.6 594.3,1479.6 595.1,1480.3 596,1481.6 597,1482 598.1,1483 599.1,1487.8 600.1,1499 601,1513.9 601.8,1527.9 602.5,1538.8 603.1,1548.7 603.7,1558.6 604.2,1568.8 604.7,1579.1 605.2,1589.3 605.8,1599.7 606.5,1610.2 607.1,1619.8 607.7,1628.2 608.4,1635.7 609,1642.8 609.6,1650 610.2,1656.8 610.9,1662.4 611.9,1666.3 613,1669.1 614,1671.6 614.8,1674 615.5,1676.1 616.2,1678.2 617,1680.5 617.9,1682.7 618.5,1684.2 620.1,1686.8 621.7,1685.2 623.3,1688.6 624.9,1683.4 626.5,1687.7 628.1,1687.1 630.9,1686.2 631.5,1686.2 631.6,1683.4 631.8,1678.3 632.2,1664.9 633,1638 634.1,1602.8 635.2,1569.3 636.2,1538.8 637.2,1510 638.3,1488.5 639.5,1478 640.8,1474.9 642,1473.6 642.9,1472.6 643.7,1473.3 644.5,1474.7 645.5,1475.1 646.6,1476.1 647.6,1481 648.6,1492.6 649.5,1508.1 650.3,1522.4 651,1533.7 651.6,1543.9 652.2,1554.1 652.7,1564.6 653.2,1575.1 653.7,1585.5 654.3,1596.2 655,1606.8 655.6,1616.6 656.2,1625.1 656.9,1632.7 657.5,1639.9 658.1,1647.1 658.7,1653.9 659.4,1659.5 660.4,1663.4 661.5,1666.2 662.5,1668.7 663.3,1671.1 664,1673.2 664.7,1675.3 665.5,1677.5 666.4,1679.7 667,1681.2 668.6,1682 670.2,1680.8 671.8,1684.8 673.4,1686.6 675,1682.6 676.6,1685.2 678.2,1679.9 679.8,1687 681.4,1687.2 685,1686.2" fill="none" stroke="#0808f2" stroke-width="2.9" stroke-linejoin="round"/>
<circle cx="234.2" cy="1686.2" r="8.6" fill="#fb0006"/>
<circle cx="284.5" cy="1686.2" r="8.6" fill="#fb0006"/>
<circle cx="334.5" cy="1686.2" r="8.6" fill="#fb0006"/>
<circle cx="385.3" cy="1686.2" r="8.6" fill="#fb0006"/>
<circle cx="435.3" cy="1686.2" r="8.6" fill="#fb0006"/>
<circle cx="483.9" cy="1686.2" r="8.6" fill="#fb0006"/>
<circle cx="535.8" cy="1686.2" r="8.6" fill="#fb0006"/>
<circle cx="586.2" cy="1686.2" r="8.6" fill="#fb0006"/>
<circle cx="630.9" cy="1686.2" r="8.6" fill="#fb0006"/>
<circle cx="685" cy="1686.2" r="8.6" fill="#fb0006"/>
<circle cx="239.8" cy="1484.4" r="8.6" fill="#0cc10c"/>
<circle cx="291.7" cy="1463.8" r="8.6" fill="#0cc10c"/>
<circle cx="342.1" cy="1480.2" r="8.6" fill="#0cc10c"/>
<circle cx="394.1" cy="1488.8" r="8.6" fill="#0cc10c"/>
<circle cx="444.6" cy="1480.4" r="8.6" fill="#0cc10c"/>
<circle cx="495" cy="1480.5" r="8.6" fill="#0cc10c"/>
<circle cx="543.5" cy="1487" r="8.6" fill="#0cc10c"/>
<circle cx="593.5" cy="1480.6" r="8.6" fill="#0cc10c"/>
<circle cx="642" cy="1473.6" r="8.6" fill="#0cc10c"/>
<line x1="184.2" y1="1394.1" x2="184.2" y2="1744.8" stroke="#1a1a1a" stroke-width="2.6"/>
<line x1="182.9" y1="1743.5" x2="708" y2="1743.5" stroke="#1a1a1a" stroke-width="2.6"/>
<line x1="174.9" y1="1453.6" x2="184.2" y2="1453.6" stroke="#1a1a1a" stroke-width="2.6"/>
<text x="168.8" y="1462" font-family="'Liberation Sans', sans-serif" font-size="24" font-weight="bold" text-anchor="end" fill="#222222">20</text>
<line x1="174.9" y1="1569.8" x2="184.2" y2="1569.8" stroke="#1a1a1a" stroke-width="2.6"/>
<text x="168.8" y="1578.2" font-family="'Liberation Sans', sans-serif" font-size="24" font-weight="bold" text-anchor="end" fill="#222222">10</text>
<line x1="174.9" y1="1686.1" x2="184.2" y2="1686.1" stroke="#1a1a1a" stroke-width="2.6"/>
<text x="168.8" y="1694.5" font-family="'Liberation Sans', sans-serif" font-size="24" font-weight="bold" text-anchor="end" fill="#222222">0</text>
<line x1="184.2" y1="1743.5" x2="184.2" y2="1753.2" stroke="#1a1a1a" stroke-width="2.6"/>
<text x="184.2" y="1788.3" font-family="'Liberation Sans', sans-serif" font-size="30.5" font-weight="bold" text-anchor="middle" fill="#222222">0</text>
<line x1="329.1" y1="1743.5" x2="329.1" y2="1753.2" stroke="#1a1a1a" stroke-width="2.6"/>
<text x="329.1" y="1788.3" font-family="'Liberation Sans', sans-serif" font-size="30.5" font-weight="bold" text-anchor="middle" fill="#222222">5</text>
<line x1="474" y1="1743.5" x2="474" y2="1753.2" stroke="#1a1a1a" stroke-width="2.6"/>
<text x="474" y="1788.3" font-family="'Liberation Sans', sans-serif" font-size="30.5" font-weight="bold" text-anchor="middle" fill="#222222">10</text>
<line x1="618.9" y1="1743.5" x2="618.9" y2="1753.2" stroke="#1a1a1a" stroke-width="2.6"/>
<text x="618.9" y="1788.3" font-family="'Liberation Sans', sans-serif" font-size="30.5" font-weight="bold" text-anchor="middle" fill="#222222">15</text>
<text x="445.5" y="1824" font-family="'Liberation Sans', sans-serif" font-size="34" font-weight="bold" text-anchor="middle" fill="#222222">Time (Sec)</text>
<text x="87.2" y="1568.6" font-family="'Liberation Sans', sans-serif" font-size="33.6" font-weight="bold" text-anchor="middle" fill="#222222" transform="rotate(-90 87.2 1568.6)">Fluorescence</text>
<text x="127.7" y="1568.6" font-family="'Liberation Sans', sans-serif" font-size="33.6" font-weight="bold" text-anchor="middle" fill="#222222" transform="rotate(-90 127.7 1568.6)">Intensity (a.u.)</text>
<line x1="711.8" y1="1559" x2="748.8" y2="1559" stroke="#0808f2" stroke-width="3"/>
<circle cx="730.3" cy="1597.5" r="9" fill="#0cc10c"/>
<circle cx="730.3" cy="1637.5" r="9" fill="#fb0006"/>
<text x="770" y="1571" font-family="'Liberation Sans', sans-serif" font-size="33.2" text-anchor="start" fill="#222222">Detrended Signal</text>
<text x="770" y="1610" font-family="'Liberation Sans', sans-serif" font-size="33.2" text-anchor="start" fill="#222222">Peak Points</text>
<text x="770" y="1649" font-family="'Liberation Sans', sans-serif" font-size="33.2" text-anchor="start" fill="#222222">Starting Points</text>
</g>
<g id="panelF">
<line x1="183.4" y1="2123.1" x2="748.5" y2="2126.2" stroke="#050505" stroke-width="4.4" stroke-dasharray="25 24.9" stroke-dashoffset="-1"/>
<line x1="401.6" y1="1877" x2="401.6" y2="2123" stroke="#e8262a" stroke-width="1.5" stroke-dasharray="1.3 1.9"/>
<line x1="339.9" y1="2097.6" x2="541.8" y2="2097.6" stroke="#e8262a" stroke-width="1.6" stroke-dasharray="1.3 1.9"/>
<path d="M339.9 2092.2 H436 Q438.6 2092.2 439 2089 L439.3 2084.5 Q439.5 2081.5 441.5 2081 L558.5 2053.9 M440.2 2088 Q440.5 2092.2 443 2092.2 H538.5" fill="none" stroke="#e8262a" stroke-width="1.5"/>
<path d="M401.6 1878.5 Q408.7 1878.5 408.7 1886 V1980 Q408.7 1986.5 414 1987.2 L421 1987.2 L492.5 1928.3 M414 1987.4 Q408.7 1988 408.7 1994 V2090 Q408.7 2097.5 401.6 2097.6" fill="none" stroke="#303030" stroke-width="1.2"/>
<polyline points="250.1,2120.3 251.9,2120.5 254.4,2120.8 257.5,2121.1 260.9,2121.4 264.7,2121.7 268.9,2122.1 273.4,2122.4 278.2,2122.7 283.4,2122.8 288.9,2122.9 294.5,2122.9 299.9,2122.9 305.2,2122.9 310.6,2122.8 315.4,2122.6 319.4,2122.5 321.9,2122.3 323.5,2122.1 324.6,2121.8 325.8,2121.4 327.3,2120.8 328.8,2120.2 330.1,2119.3 331.3,2118.1 332.2,2116.7 333,2115.1 333.7,2113.1 334.5,2110.6 335.3,2107.4 336.1,2103.6 336.9,2099.5 337.7,2095.4 338.5,2091.3 339.3,2087.2 340.1,2082.8 341,2078.1 342,2073.1 343.1,2067.9 344.2,2062.4 345.3,2056.5 346.4,2049.9 347.5,2042.8 348.6,2035.5 349.7,2028.3 350.7,2021.3 351.8,2014.2 352.9,2007.2 354,2000.2 355.1,1993 356.1,1985.8 357.2,1978.8 358.3,1972 359.4,1965.7 360.5,1959.7 361.6,1953.9 362.6,1948.2 363.7,1942.6 364.8,1937 365.9,1931.6 367,1926.6 368.1,1921.8 369.1,1917.3 370.2,1913.1 371.3,1909.3 372.4,1905.9 373.4,1902.8 374.5,1900.1 375.6,1897.4 376.9,1894.7 378.3,1892.1 379.7,1889.7 381,1887.6 382.4,1885.9 383.7,1884.5 385,1883.3 386.5,1882.2 387.9,1881.1 389.5,1880.1 391.1,1879.3 392.9,1878.5 395,1877.9 397.3,1877.4 399.5,1877 401.6,1876.8 403.3,1876.7 404.8,1876.7 406.4,1876.8 408.1,1877.2 410.1,1877.9 412.3,1878.8 414.5,1879.9 416.8,1881.1 418.9,1882.5 421.1,1884.1 423.2,1885.9 425.4,1887.6 427.6,1889.4 429.7,1891.3 431.9,1893.3 434.1,1895.2 436.2,1897 438.4,1898.8 440.6,1900.6 442.7,1902.8 444.9,1905.2 447.2,1907.8 449.4,1910.7 451.4,1913.6 453.2,1916.6 454.8,1919.8 456.3,1923.1 457.9,1926.6 459.5,1930.2 461.1,1933.9 462.7,1937.7 464.4,1941.7 466,1945.9 467.6,1950.1 469.2,1954.5 470.9,1959 472.5,1963.8 474.1,1968.7 475.7,1973.6 477.4,1978.5 479,1983.4 480.6,1988.3 482.2,1993.1 483.9,1998 485.5,2002.9 487.1,2007.9 488.7,2012.8 490.3,2017.5 492,2022 493.6,2026.4 495.2,2030.7 496.8,2034.8 498.5,2038.8 500.1,2042.7 501.7,2046.4 503.3,2050 505,2053.4 506.6,2056.7 508.2,2059.9 509.8,2062.9 511.4,2065.8 512.9,2068.6 514.5,2071.2 516.3,2073.8 518.3,2076.3 520.5,2078.8 522.8,2081.2 525,2083.5 527.1,2085.6 529.3,2087.4 531.5,2089.2 533.6,2091.1 535.7,2093 537.7,2094.9 539.8,2096.8 542.3,2098.7 545,2100.5 547.9,2102.4 551.3,2104.3 555.3,2106.2 560.3,2108.3 566.1,2110.5 572.1,2112.7 577.5,2114.5 582.1,2115.8 586.2,2116.9 590.3,2117.9 594.8,2118.8 599.9,2119.7 605.4,2120.6 610.9,2121.4 616.5,2122 621.9,2122.6 627.3,2123 632.7,2123.3 638.1,2123.5 643.3,2123.7 648.2,2123.8 653.6,2123.8 659.7,2123.8 667.9,2123.7 677.3,2123.7 686.1,2123.6 692.2,2123.5" fill="none" stroke="#050505" stroke-width="3.5" stroke-linejoin="round" stroke-linecap="round"/>
<line x1="183.4" y1="1854.1" x2="183.4" y2="2149.6" stroke="#1a1a1a" stroke-width="2.5"/>
<line x1="182.2" y1="2148.4" x2="748.5" y2="2148.4" stroke="#1a1a1a" stroke-width="2.5"/>
<text x="466.5" y="2194.8" font-family="'Liberation Sans', sans-serif" font-size="35" font-weight="bold" text-anchor="middle" fill="#222222">Time</text>
<text x="82.9" y="1995" font-family="'Liberation Sans', sans-serif" font-size="36.4" font-weight="bold" text-anchor="middle" fill="#222222" transform="rotate(-90 82.9 1995)">Fluorescence</text>
<text x="126" y="1995" font-family="'Liberation Sans', sans-serif" font-size="36.4" font-weight="bold" text-anchor="middle" fill="#222222" transform="rotate(-90 126 1995)">Intensity (a.u.)</text>
<text x="497" y="1910.3" font-family="'Liberation Sans', sans-serif" font-size="24" text-anchor="start" fill="#111" textLength="72" lengthAdjust="spacingAndGlyphs">90% of</text>
<text x="497" y="1941.7" font-family="'Liberation Sans', sans-serif" font-size="24" text-anchor="start" fill="#111" textLength="112.5" lengthAdjust="spacingAndGlyphs">Amplitude</text>
<text x="562.5" y="2058.6" font-family="'Liberation Sans', sans-serif" font-size="24.5" text-anchor="start" fill="#111" textLength="76" lengthAdjust="spacingAndGlyphs">CTD90</text>
</g>
<g id="panelG">
<line x1="1285" y1="1379" x2="1285" y2="1730.5" stroke="#1a1a1a" stroke-width="2.6"/>
<line x1="1274.8" y1="1729.2" x2="1809.6" y2="1729.2" stroke="#0a0a0a" stroke-width="2.6"/>
<line x1="1274.8" y1="1380.3" x2="1285" y2="1380.3" stroke="#1a1a1a" stroke-width="2.6"/>
<text x="1268.6" y="1392" font-family="'Liberation Sans', sans-serif" font-size="33" font-weight="bold" text-anchor="end" fill="#222222">900</text>
<line x1="1274.8" y1="1467.5" x2="1285" y2="1467.5" stroke="#1a1a1a" stroke-width="2.6"/>
<text x="1268.6" y="1479.2" font-family="'Liberation Sans', sans-serif" font-size="33" font-weight="bold" text-anchor="end" fill="#222222">850</text>
<line x1="1274.8" y1="1554.7" x2="1285" y2="1554.7" stroke="#1a1a1a" stroke-width="2.6"/>
<text x="1268.6" y="1566.4" font-family="'Liberation Sans', sans-serif" font-size="33" font-weight="bold" text-anchor="end" fill="#222222">800</text>
<line x1="1274.8" y1="1642" x2="1285" y2="1642" stroke="#1a1a1a" stroke-width="2.6"/>
<text x="1268.6" y="1653.7" font-family="'Liberation Sans', sans-serif" font-size="33" font-weight="bold" text-anchor="end" fill="#222222">750</text>
<text x="1268.6" y="1740.9" font-family="'Liberation Sans', sans-serif" font-size="33" font-weight="bold" text-anchor="end" fill="#222222">700</text>
<polyline points="1327.7,1454.3 1414.9,1526.4 1502.6,1548.7 1589.3,1551.7 1676.9,1564.3 1764.2,1605" fill="none" stroke="#f5333a" stroke-width="3" stroke-dasharray="9 5.5" stroke-dashoffset="-6"/>
<circle cx="1327.7" cy="1454.3" r="8.4" fill="#f5333a"/>
<path d="M1327.7 1424.2 V1483.8 M1318.9 1424.2 H1336.5 M1318.9 1483.8 H1336.5" fill="none" stroke="#2b2b2b" stroke-width="4.9"/>
<circle cx="1414.9" cy="1526.4" r="8.4" fill="#f5333a"/>
<path d="M1414.9 1493.9 V1558.2 M1406.1 1493.9 H1423.7 M1406.1 1558.2 H1423.7" fill="none" stroke="#2b2b2b" stroke-width="4.9"/>
<circle cx="1502.6" cy="1548.7" r="8.4" fill="#f5333a"/>
<path d="M1502.6 1524.9 V1572.5 M1493.8 1524.9 H1511.4 M1493.8 1572.5 H1511.4" fill="none" stroke="#2b2b2b" stroke-width="4.9"/>
<circle cx="1589.3" cy="1551.7" r="8.4" fill="#f5333a"/>
<path d="M1589.3 1529.7 V1573 M1580.5 1529.7 H1598.1 M1580.5 1573 H1598.1" fill="none" stroke="#2b2b2b" stroke-width="4.9"/>
<circle cx="1676.9" cy="1564.3" r="8.4" fill="#f5333a"/>
<path d="M1676.9 1542.6 V1585.3 M1668.1 1542.6 H1685.7 M1668.1 1585.3 H1685.7" fill="none" stroke="#2b2b2b" stroke-width="4.9"/>
<circle cx="1764.2" cy="1605" r="8.4" fill="#f5333a"/>
<path d="M1764.2 1585.9 V1624.5 M1755.4 1585.9 H1773 M1755.4 1624.5 H1773" fill="none" stroke="#2b2b2b" stroke-width="4.9"/>
<rect x="1809.6" y="1369.5" width="95.2" height="361" fill="#c50000"/>
<text x="1865.5" y="1549.6" font-family="'Liberation Sans', sans-serif" font-size="31" font-weight="bold" text-anchor="middle" fill="#ececec" transform="rotate(90 1865.5 1549.6)" textLength="252" lengthAdjust="spacingAndGlyphs">Calcium Transient</text>
<text x="1824" y="1551.3" font-family="'Liberation Sans', sans-serif" font-size="31" font-weight="bold" text-anchor="middle" fill="#ececec" transform="rotate(90 1824 1551.3)" textLength="165.5" lengthAdjust="spacingAndGlyphs">Duration 90</text>
<line x1="1285" y1="1794.2" x2="1285" y2="2145.1" stroke="#1a1a1a" stroke-width="2.6"/>
<line x1="1274.8" y1="2143.8" x2="1809.6" y2="2143.8" stroke="#1a1a1a" stroke-width="2.6"/>
<line x1="1274.8" y1="1795.5" x2="1285" y2="1795.5" stroke="#1a1a1a" stroke-width="2.6"/>
<text x="1268.6" y="1807.2" font-family="'Liberation Sans', sans-serif" font-size="33" font-weight="bold" text-anchor="end" fill="#222222">60</text>
<line x1="1274.8" y1="1882.6" x2="1285" y2="1882.6" stroke="#1a1a1a" stroke-width="2.6"/>
<text x="1268.6" y="1894.3" font-family="'Liberation Sans', sans-serif" font-size="33" font-weight="bold" text-anchor="end" fill="#222222">55</text>
<line x1="1274.8" y1="1969.7" x2="1285" y2="1969.7" stroke="#1a1a1a" stroke-width="2.6"/>
<text x="1268.6" y="1981.4" font-family="'Liberation Sans', sans-serif" font-size="33" font-weight="bold" text-anchor="end" fill="#222222">50</text>
<line x1="1274.8" y1="2056.7" x2="1285" y2="2056.7" stroke="#1a1a1a" stroke-width="2.6"/>
<text x="1268.6" y="2068.4" font-family="'Liberation Sans', sans-serif" font-size="33" font-weight="bold" text-anchor="end" fill="#222222">45</text>
<text x="1268.6" y="2155.5" font-family="'Liberation Sans', sans-serif" font-size="33" font-weight="bold" text-anchor="end" fill="#222222">40</text>
<polyline points="1327.7,1949.2 1414.9,1969.1 1502.6,1959.4 1589.7,1971.3 1676.9,1962.6 1764.6,1972.4" fill="none" stroke="#f5333a" stroke-width="3" stroke-dasharray="9 5.5" stroke-dashoffset="-6"/>
<circle cx="1327.7" cy="1949.2" r="8.4" fill="#f5333a"/>
<path d="M1327.7 1900.3 V1998.4 M1318.9 1900.3 H1336.5 M1318.9 1998.4 H1336.5" fill="none" stroke="#2b2b2b" stroke-width="4.9"/>
<circle cx="1414.9" cy="1969.1" r="8.4" fill="#f5333a"/>
<path d="M1414.9 1917.6 V2021.7 M1406.1 1917.6 H1423.7 M1406.1 2021.7 H1423.7" fill="none" stroke="#2b2b2b" stroke-width="4.9"/>
<circle cx="1502.6" cy="1959.4" r="8.4" fill="#f5333a"/>
<path d="M1502.6 1909 V2009.6 M1493.8 1909 H1511.4 M1493.8 2009.6 H1511.4" fill="none" stroke="#2b2b2b" stroke-width="4.9"/>
<circle cx="1589.7" cy="1971.3" r="8.4" fill="#f5333a"/>
<path d="M1589.7 1925.4 V2017.4 M1580.9 1925.4 H1598.5 M1580.9 2017.4 H1598.5" fill="none" stroke="#2b2b2b" stroke-width="4.9"/>
<circle cx="1676.9" cy="1962.6" r="8.4" fill="#f5333a"/>
<path d="M1676.9 1918.3 V2007.4 M1668.1 1918.3 H1685.7 M1668.1 2007.4 H1685.7" fill="none" stroke="#2b2b2b" stroke-width="4.9"/>
<circle cx="1764.6" cy="1972.4" r="8.4" fill="#f5333a"/>
<path d="M1764.6 1927.6 V2016.3 M1755.8 1927.6 H1773.4 M1755.8 2016.3 H1773.4" fill="none" stroke="#2b2b2b" stroke-width="4.9"/>
<line x1="1328.2" y1="2143.8" x2="1328.2" y2="2154.2" stroke="#1a1a1a" stroke-width="2.6"/>
<text x="1334.5" y="2178.8" font-family="'Liberation Sans', sans-serif" font-size="31.5" font-weight="bold" text-anchor="end" fill="#222222" transform="rotate(-45 1334.5 2178.8)">0</text>
<line x1="1415.6" y1="2143.8" x2="1415.6" y2="2154.2" stroke="#1a1a1a" stroke-width="2.6"/>
<text x="1421.9" y="2178.8" font-family="'Liberation Sans', sans-serif" font-size="31.5" font-weight="bold" text-anchor="end" fill="#222222" transform="rotate(-45 1421.9 2178.8)">30</text>
<line x1="1503" y1="2143.8" x2="1503" y2="2154.2" stroke="#1a1a1a" stroke-width="2.6"/>
<text x="1509.3" y="2178.8" font-family="'Liberation Sans', sans-serif" font-size="31.5" font-weight="bold" text-anchor="end" fill="#222222" transform="rotate(-45 1509.3 2178.8)">60</text>
<line x1="1590.3" y1="2143.8" x2="1590.3" y2="2154.2" stroke="#1a1a1a" stroke-width="2.6"/>
<text x="1596.6" y="2178.8" font-family="'Liberation Sans', sans-serif" font-size="31.5" font-weight="bold" text-anchor="end" fill="#222222" transform="rotate(-45 1596.6 2178.8)">90</text>
<line x1="1677.7" y1="2143.8" x2="1677.7" y2="2154.2" stroke="#1a1a1a" stroke-width="2.6"/>
<text x="1684" y="2178.8" font-family="'Liberation Sans', sans-serif" font-size="31.5" font-weight="bold" text-anchor="end" fill="#222222" transform="rotate(-45 1684 2178.8)">120</text>
<line x1="1765.1" y1="2143.8" x2="1765.1" y2="2154.2" stroke="#1a1a1a" stroke-width="2.6"/>
<text x="1771.4" y="2178.8" font-family="'Liberation Sans', sans-serif" font-size="31.5" font-weight="bold" text-anchor="end" fill="#222222" transform="rotate(-45 1771.4 2178.8)">150</text>
<rect x="1813.3" y="1799.2" width="94.1" height="348.5" fill="#2e75b6"/>
<text x="1868.3" y="1974" font-family="'Liberation Sans', sans-serif" font-size="31" font-weight="bold" text-anchor="middle" fill="#ececec" transform="rotate(90 1868.3 1974)" textLength="163.5" lengthAdjust="spacingAndGlyphs">Shape Ratio</text>
<text x="1828.4" y="1974.5" font-family="'Liberation Sans', sans-serif" font-size="31" font-weight="bold" text-anchor="middle" fill="#ececec" transform="rotate(90 1828.4 1974.5)" textLength="32.5" lengthAdjust="spacingAndGlyphs">90</text>
<text x="1192.6" y="1723" font-family="'Liberation Sans', sans-serif" font-size="43.4" font-weight="bold" text-anchor="middle" fill="#222222" transform="rotate(-90 1192.6 1723)">Relative Parameter Value</text>
<text x="1547" y="2269.7" font-family="'Liberation Sans', sans-serif" font-size="33.5" font-weight="bold" text-anchor="middle" fill="#222222">Time (Min)</text>
</g>
<g id="labels">
<text transform="translate(3 64.4) scale(1.0000 1)" font-family="'DejaVu Sans', 'Liberation Sans', sans-serif" font-size="82" fill="#000">A</text>
<text transform="translate(61.4 64.4) scale(1.06 1)" font-family="'DejaVu Sans', 'Liberation Sans', sans-serif" font-size="82" fill="#000">.</text>
<text transform="translate(1047.6 64.2) scale(1.0757 1)" font-family="'DejaVu Sans', 'Liberation Sans', sans-serif" font-size="82" fill="#000">B</text>
<text transform="translate(1106.4 64.2) scale(1.06 1)" font-family="'DejaVu Sans', 'Liberation Sans', sans-serif" font-size="82" fill="#000">.</text>
<text transform="translate(1.4 726.6) scale(1.0870 1)" font-family="'DejaVu Sans', 'Liberation Sans', sans-serif" font-size="82" fill="#000">C</text>
<text transform="translate(62.5 726.6) scale(1.06 1)" font-family="'DejaVu Sans', 'Liberation Sans', sans-serif" font-size="82" fill="#000">.</text>
<text transform="translate(1047.2 726.7) scale(1.0299 1)" font-family="'DejaVu Sans', 'Liberation Sans', sans-serif" font-size="82" fill="#000">D</text>
<text transform="translate(1113.4 726.7) scale(1.06 1)" font-family="'DejaVu Sans', 'Liberation Sans', sans-serif" font-size="82" fill="#000">.</text>
<text transform="translate(9.4 1341.5) scale(1.0051 1)" font-family="'DejaVu Sans', 'Liberation Sans', sans-serif" font-size="82" fill="#000">E</text>
<text transform="translate(62.8 1341.5) scale(1.06 1)" font-family="'DejaVu Sans', 'Liberation Sans', sans-serif" font-size="82" fill="#000">.</text>
<text transform="translate(1.9 1848.5) scale(1.1287 1)" font-family="'DejaVu Sans', 'Liberation Sans', sans-serif" font-size="82" fill="#000">F</text>
<text transform="translate(52.3 1848.5) scale(1.06 1)" font-family="'DejaVu Sans', 'Liberation Sans', sans-serif" font-size="82" fill="#000">.</text>
<text transform="translate(1047.3 1341.7) scale(1.0615 1)" font-family="'DejaVu Sans', 'Liberation Sans', sans-serif" font-size="82" fill="#000">G</text>
<text transform="translate(1114.2 1341.7) scale(1.06 1)" font-family="'DejaVu Sans', 'Liberation Sans', sans-serif" font-size="82" fill="#000">.</text>
</g>
</svg>
</body></html>
